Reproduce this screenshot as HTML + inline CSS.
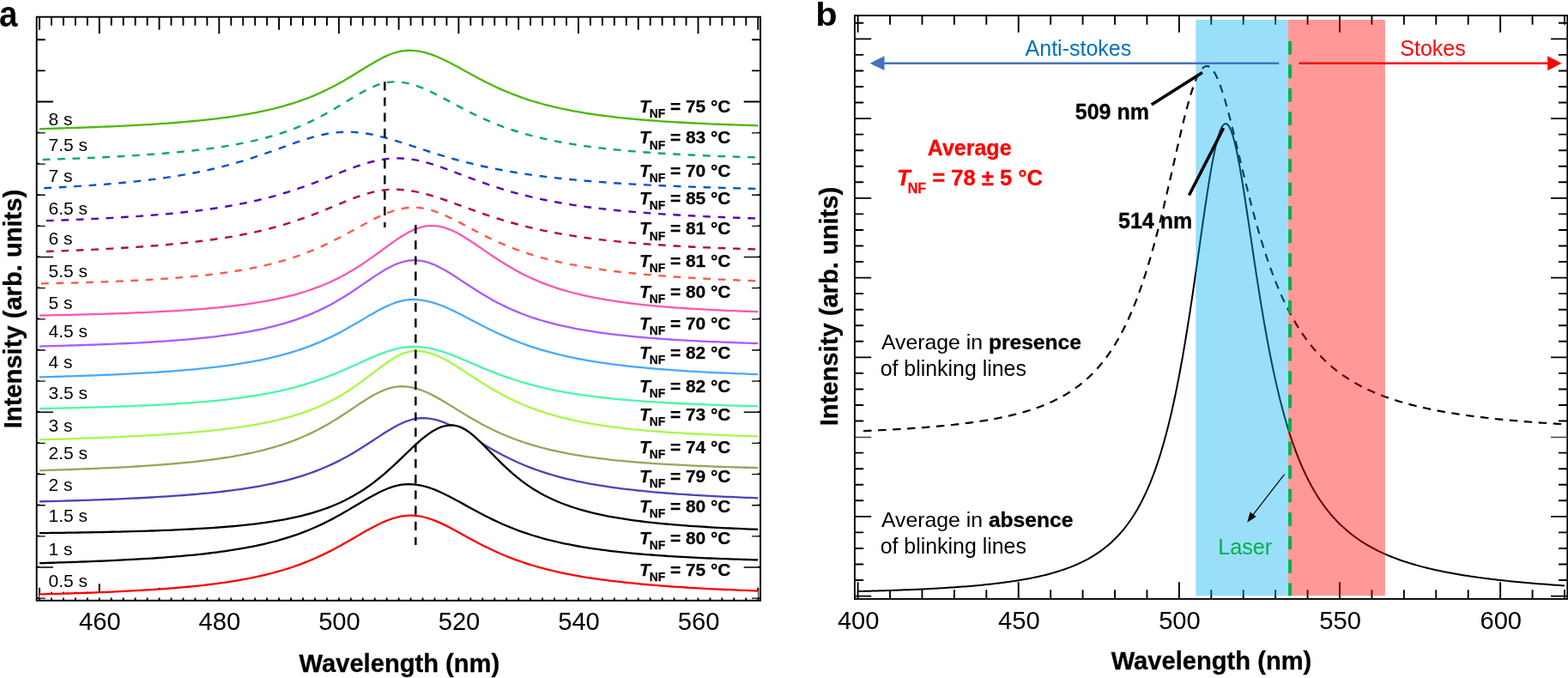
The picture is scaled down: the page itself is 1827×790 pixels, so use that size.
<!DOCTYPE html>
<html lang="en">
<head>
<meta charset="utf-8">
<title>Figure</title>
<style>
html,body{margin:0;padding:0;background:#fff;}
body{width:1827px;height:790px;overflow:hidden;}
svg{display:block;}
text{white-space:pre;}
</style>
</head>
<body>
<svg width="1827" height="790" viewBox="0 0 1827 790" role="img" aria-label="Spectra figure with panels a and b">
<rect width="1827" height="790" fill="#fff"/>
<g id="panel-a">
<g stroke="#000" stroke-width="1.9" fill="none">
<path d="M46 19.7 v15 M46 699.75 v-15 M59.95 19.7 v10 M59.95 699.75 v-10 M73.91 19.7 v10 M73.91 699.75 v-10 M87.86 19.7 v10 M87.86 699.75 v-10 M101.82 19.7 v10 M101.82 699.75 v-10 M115.77 19.7 v19.5 M115.77 699.75 v-19.5 M129.72 19.7 v10 M129.72 699.75 v-10 M143.68 19.7 v10 M143.68 699.75 v-10 M157.63 19.7 v10 M157.63 699.75 v-10 M171.59 19.7 v10 M171.59 699.75 v-10 M185.54 19.7 v15 M185.54 699.75 v-15 M199.49 19.7 v10 M199.49 699.75 v-10 M213.45 19.7 v10 M213.45 699.75 v-10 M227.4 19.7 v10 M227.4 699.75 v-10 M241.36 19.7 v10 M241.36 699.75 v-10 M255.31 19.7 v19.5 M255.31 699.75 v-19.5 M269.26 19.7 v10 M269.26 699.75 v-10 M283.22 19.7 v10 M283.22 699.75 v-10 M297.17 19.7 v10 M297.17 699.75 v-10 M311.13 19.7 v10 M311.13 699.75 v-10 M325.08 19.7 v15 M325.08 699.75 v-15 M339.03 19.7 v10 M339.03 699.75 v-10 M352.99 19.7 v10 M352.99 699.75 v-10 M366.94 19.7 v10 M366.94 699.75 v-10 M380.9 19.7 v10 M380.9 699.75 v-10 M394.85 19.7 v19.5 M394.85 699.75 v-19.5 M408.8 19.7 v10 M408.8 699.75 v-10 M422.76 19.7 v10 M422.76 699.75 v-10 M436.71 19.7 v10 M436.71 699.75 v-10 M450.67 19.7 v10 M450.67 699.75 v-10 M464.62 19.7 v15 M464.62 699.75 v-15 M478.57 19.7 v10 M478.57 699.75 v-10 M492.53 19.7 v10 M492.53 699.75 v-10 M506.48 19.7 v10 M506.48 699.75 v-10 M520.44 19.7 v10 M520.44 699.75 v-10 M534.39 19.7 v19.5 M534.39 699.75 v-19.5 M548.34 19.7 v10 M548.34 699.75 v-10 M562.3 19.7 v10 M562.3 699.75 v-10 M576.25 19.7 v10 M576.25 699.75 v-10 M590.21 19.7 v10 M590.21 699.75 v-10 M604.16 19.7 v15 M604.16 699.75 v-15 M618.11 19.7 v10 M618.11 699.75 v-10 M632.07 19.7 v10 M632.07 699.75 v-10 M646.02 19.7 v10 M646.02 699.75 v-10 M659.98 19.7 v10 M659.98 699.75 v-10 M673.93 19.7 v19.5 M673.93 699.75 v-19.5 M687.88 19.7 v10 M687.88 699.75 v-10 M701.84 19.7 v10 M701.84 699.75 v-10 M715.79 19.7 v10 M715.79 699.75 v-10 M729.75 19.7 v10 M729.75 699.75 v-10 M743.7 19.7 v15 M743.7 699.75 v-15 M757.65 19.7 v10 M757.65 699.75 v-10 M771.61 19.7 v10 M771.61 699.75 v-10 M785.56 19.7 v10 M785.56 699.75 v-10 M799.52 19.7 v10 M799.52 699.75 v-10 M813.47 19.7 v19.5 M813.47 699.75 v-10 M827.42 19.7 v10 M827.42 699.75 v-10 M841.38 19.7 v10 M841.38 699.75 v-10 M855.33 19.7 v10 M855.33 699.75 v-10 M869.29 19.7 v10 M869.29 699.75 v-10 M883.24 19.7 v15 M883.24 699.75 v-15 M42.7 46.2 h10 M886 46.2 h-10 M42.7 82.35 h10 M886 82.35 h-10 M42.7 118.5 h19.3 M886 118.5 h-19.3 M42.7 154.65 h10 M886 154.65 h-10 M42.7 190.8 h10 M886 190.8 h-10 M42.7 226.95 h10 M886 226.95 h-10 M42.7 263.1 h10 M886 263.1 h-10 M42.7 299.25 h19.3 M886 299.25 h-19.3 M42.7 335.4 h10 M886 335.4 h-10 M42.7 371.55 h10 M886 371.55 h-10 M42.7 407.7 h10 M886 407.7 h-10 M42.7 443.85 h10 M886 443.85 h-10 M42.7 480 h19.3 M886 480 h-19.3 M42.7 516.15 h10 M886 516.15 h-10 M42.7 552.3 h10 M886 552.3 h-10 M42.7 588.45 h10 M886 588.45 h-10 M42.7 624.6 h10 M886 624.6 h-10 M42.7 660.75 h19.3 M886 660.75 h-19.3 M42.7 696.9 h10 M886 696.9 h-10"/>
</g>
<path d="M46 150.17 L50.68 150.04 L55.35 149.91 L60.03 149.78 L64.71 149.65 L69.39 149.51 L74.06 149.37 L78.74 149.22 L83.42 149.07 L88.1 148.91 L92.77 148.75 L97.45 148.59 L102.13 148.42 L106.81 148.25 L111.48 148.07 L116.16 147.88 L120.84 147.69 L125.51 147.49 L130.19 147.29 L134.87 147.08 L139.55 146.86 L144.22 146.64 L148.9 146.41 L153.58 146.17 L158.26 145.92 L162.93 145.66 L167.61 145.39 L172.29 145.12 L176.96 144.83 L181.64 144.53 L186.32 144.22 L191 143.9 L195.67 143.57 L200.35 143.23 L205.03 142.86 L209.71 142.49 L214.38 142.1 L219.06 141.69 L223.74 141.27 L228.42 140.83 L233.09 140.37 L237.77 139.88 L242.45 139.38 L247.12 138.85 L251.8 138.3 L256.48 137.72 L261.16 137.12 L265.83 136.49 L270.51 135.82 L275.19 135.13 L279.87 134.4 L284.54 133.63 L289.22 132.82 L293.9 131.97 L298.58 131.08 L303.25 130.14 L307.93 129.15 L312.61 128.1 L317.28 127 L321.96 125.84 L326.64 124.62 L331.32 123.33 L335.99 121.97 L340.67 120.53 L345.35 119.01 L350.03 117.41 L354.7 115.73 L359.38 113.95 L364.06 112.08 L368.73 110.1 L373.41 108.03 L378.09 105.86 L382.77 103.58 L387.44 101.2 L392.12 98.72 L396.8 96.14 L401.48 93.47 L406.15 90.73 L410.83 87.91 L415.51 85.05 L420.19 82.17 L424.86 79.28 L429.54 76.42 L434.22 73.64 L438.89 70.96 L443.57 68.44 L448.25 66.11 L452.93 64.03 L457.6 62.24 L462.28 60.79 L466.96 59.71 L471.64 59.03 L476.31 58.76 L480.99 58.88 L485.67 59.33 L490.35 60.1 L495.02 61.17 L499.7 62.53 L504.38 64.15 L509.05 65.99 L513.73 68.03 L518.41 70.24 L523.09 72.58 L527.76 75.01 L532.44 77.52 L537.12 80.08 L541.8 82.65 L546.47 85.23 L551.15 87.78 L555.83 90.3 L560.51 92.77 L565.18 95.18 L569.86 97.52 L574.54 99.78 L579.21 101.97 L583.89 104.08 L588.57 106.11 L593.25 108.05 L597.92 109.91 L602.6 111.69 L607.28 113.38 L611.96 115 L616.63 116.55 L621.31 118.02 L625.99 119.42 L630.66 120.75 L635.34 122.02 L640.02 123.22 L644.7 124.37 L649.37 125.46 L654.05 126.5 L658.73 127.49 L663.41 128.43 L668.08 129.33 L672.76 130.18 L677.44 130.99 L682.12 131.76 L686.79 132.5 L691.47 133.2 L696.15 133.87 L700.82 134.51 L705.5 135.12 L710.18 135.7 L714.86 136.26 L719.53 136.79 L724.21 137.29 L728.89 137.78 L733.57 138.24 L738.24 138.68 L742.92 139.11 L747.6 139.51 L752.28 139.9 L756.95 140.27 L761.63 140.63 L766.31 140.97 L770.98 141.3 L775.66 141.62 L780.34 141.92 L785.02 142.21 L789.69 142.49 L794.37 142.75 L799.05 143.01 L803.73 143.26 L808.4 143.49 L813.08 143.72 L817.76 143.94 L822.43 144.15 L827.11 144.36 L831.79 144.55 L836.47 144.74 L841.14 144.93 L845.82 145.1 L850.5 145.27 L855.18 145.43 L859.85 145.59 L864.53 145.74 L869.21 145.89 L873.89 146.03 L878.56 146.17 L883.24 146.3 L883.24 154.25 L46 154.25 Z" fill="#fff" stroke="none"/>
<path d="M46 150.17 L50.68 150.04 L55.35 149.91 L60.03 149.78 L64.71 149.65 L69.39 149.51 L74.06 149.37 L78.74 149.22 L83.42 149.07 L88.1 148.91 L92.77 148.75 L97.45 148.59 L102.13 148.42 L106.81 148.25 L111.48 148.07 L116.16 147.88 L120.84 147.69 L125.51 147.49 L130.19 147.29 L134.87 147.08 L139.55 146.86 L144.22 146.64 L148.9 146.41 L153.58 146.17 L158.26 145.92 L162.93 145.66 L167.61 145.39 L172.29 145.12 L176.96 144.83 L181.64 144.53 L186.32 144.22 L191 143.9 L195.67 143.57 L200.35 143.23 L205.03 142.86 L209.71 142.49 L214.38 142.1 L219.06 141.69 L223.74 141.27 L228.42 140.83 L233.09 140.37 L237.77 139.88 L242.45 139.38 L247.12 138.85 L251.8 138.3 L256.48 137.72 L261.16 137.12 L265.83 136.49 L270.51 135.82 L275.19 135.13 L279.87 134.4 L284.54 133.63 L289.22 132.82 L293.9 131.97 L298.58 131.08 L303.25 130.14 L307.93 129.15 L312.61 128.1 L317.28 127 L321.96 125.84 L326.64 124.62 L331.32 123.33 L335.99 121.97 L340.67 120.53 L345.35 119.01 L350.03 117.41 L354.7 115.73 L359.38 113.95 L364.06 112.08 L368.73 110.1 L373.41 108.03 L378.09 105.86 L382.77 103.58 L387.44 101.2 L392.12 98.72 L396.8 96.14 L401.48 93.47 L406.15 90.73 L410.83 87.91 L415.51 85.05 L420.19 82.17 L424.86 79.28 L429.54 76.42 L434.22 73.64 L438.89 70.96 L443.57 68.44 L448.25 66.11 L452.93 64.03 L457.6 62.24 L462.28 60.79 L466.96 59.71 L471.64 59.03 L476.31 58.76 L480.99 58.88 L485.67 59.33 L490.35 60.1 L495.02 61.17 L499.7 62.53 L504.38 64.15 L509.05 65.99 L513.73 68.03 L518.41 70.24 L523.09 72.58 L527.76 75.01 L532.44 77.52 L537.12 80.08 L541.8 82.65 L546.47 85.23 L551.15 87.78 L555.83 90.3 L560.51 92.77 L565.18 95.18 L569.86 97.52 L574.54 99.78 L579.21 101.97 L583.89 104.08 L588.57 106.11 L593.25 108.05 L597.92 109.91 L602.6 111.69 L607.28 113.38 L611.96 115 L616.63 116.55 L621.31 118.02 L625.99 119.42 L630.66 120.75 L635.34 122.02 L640.02 123.22 L644.7 124.37 L649.37 125.46 L654.05 126.5 L658.73 127.49 L663.41 128.43 L668.08 129.33 L672.76 130.18 L677.44 130.99 L682.12 131.76 L686.79 132.5 L691.47 133.2 L696.15 133.87 L700.82 134.51 L705.5 135.12 L710.18 135.7 L714.86 136.26 L719.53 136.79 L724.21 137.29 L728.89 137.78 L733.57 138.24 L738.24 138.68 L742.92 139.11 L747.6 139.51 L752.28 139.9 L756.95 140.27 L761.63 140.63 L766.31 140.97 L770.98 141.3 L775.66 141.62 L780.34 141.92 L785.02 142.21 L789.69 142.49 L794.37 142.75 L799.05 143.01 L803.73 143.26 L808.4 143.49 L813.08 143.72 L817.76 143.94 L822.43 144.15 L827.11 144.36 L831.79 144.55 L836.47 144.74 L841.14 144.93 L845.82 145.1 L850.5 145.27 L855.18 145.43 L859.85 145.59 L864.53 145.74 L869.21 145.89 L873.89 146.03 L878.56 146.17 L883.24 146.3" fill="none" stroke="#4cb80a" stroke-width="2.3"/>
<path d="M46 186.1 L50.68 185.96 L55.35 185.81 L60.03 185.65 L64.71 185.49 L69.39 185.33 L74.06 185.16 L78.74 184.99 L83.42 184.81 L88.1 184.63 L92.77 184.45 L97.45 184.25 L102.13 184.05 L106.81 183.85 L111.48 183.64 L116.16 183.42 L120.84 183.19 L125.51 182.96 L130.19 182.72 L134.87 182.47 L139.55 182.22 L144.22 181.95 L148.9 181.68 L153.58 181.4 L158.26 181.1 L162.93 180.8 L167.61 180.48 L172.29 180.15 L176.96 179.81 L181.64 179.46 L186.32 179.1 L191 178.72 L195.67 178.32 L200.35 177.91 L205.03 177.48 L209.71 177.03 L214.38 176.57 L219.06 176.08 L223.74 175.58 L228.42 175.05 L233.09 174.5 L237.77 173.92 L242.45 173.32 L247.12 172.69 L251.8 172.03 L256.48 171.34 L261.16 170.61 L265.83 169.85 L270.51 169.05 L275.19 168.22 L279.87 167.34 L284.54 166.41 L289.22 165.44 L293.9 164.42 L298.58 163.34 L303.25 162.21 L307.93 161.02 L312.61 159.76 L317.28 158.43 L321.96 157.03 L326.64 155.56 L331.32 154.01 L335.99 152.37 L340.67 150.65 L345.35 148.83 L350.03 146.93 L354.7 144.92 L359.38 142.81 L364.06 140.6 L368.73 138.29 L373.41 135.88 L378.09 133.37 L382.77 130.77 L387.44 128.09 L392.12 125.33 L396.8 122.52 L401.48 119.67 L406.15 116.81 L410.83 113.96 L415.51 111.16 L420.19 108.46 L424.86 105.88 L429.54 103.49 L434.22 101.32 L438.89 99.42 L443.57 97.85 L448.25 96.63 L452.93 95.81 L457.6 95.4 L462.28 95.4 L466.96 95.73 L471.64 96.38 L476.31 97.33 L480.99 98.57 L485.67 100.06 L490.35 101.79 L495.02 103.72 L499.7 105.83 L504.38 108.07 L509.05 110.43 L513.73 112.87 L518.41 115.36 L523.09 117.88 L527.76 120.4 L532.44 122.92 L537.12 125.41 L541.8 127.86 L546.47 130.25 L551.15 132.58 L555.83 134.85 L560.51 137.04 L565.18 139.15 L569.86 141.19 L574.54 143.14 L579.21 145.02 L583.89 146.82 L588.57 148.53 L593.25 150.18 L597.92 151.75 L602.6 153.24 L607.28 154.67 L611.96 156.03 L616.63 157.33 L621.31 158.57 L625.99 159.75 L630.66 160.87 L635.34 161.94 L640.02 162.96 L644.7 163.94 L649.37 164.86 L654.05 165.75 L658.73 166.59 L663.41 167.39 L668.08 168.16 L672.76 168.89 L677.44 169.59 L682.12 170.26 L686.79 170.9 L691.47 171.51 L696.15 172.1 L700.82 172.65 L705.5 173.19 L710.18 173.7 L714.86 174.19 L719.53 174.66 L724.21 175.11 L728.89 175.54 L733.57 175.95 L738.24 176.35 L742.92 176.73 L747.6 177.1 L752.28 177.45 L756.95 177.79 L761.63 178.11 L766.31 178.42 L770.98 178.72 L775.66 179.01 L780.34 179.29 L785.02 179.56 L789.69 179.81 L794.37 180.06 L799.05 180.3 L803.73 180.53 L808.4 180.75 L813.08 180.97 L817.76 181.18 L822.43 181.38 L827.11 181.57 L831.79 181.75 L836.47 181.93 L841.14 182.11 L845.82 182.28 L850.5 182.44 L855.18 182.59 L859.85 182.75 L864.53 182.89 L869.21 183.03 L873.89 183.17 L878.56 183.3 L883.24 183.43 L883.24 190.4 L46 190.4 Z" fill="#fff" stroke="none"/>
<path d="M46 186.1 L50.68 185.96 L55.35 185.81 L60.03 185.65 L64.71 185.49 L69.39 185.33 L74.06 185.16 L78.74 184.99 L83.42 184.81 L88.1 184.63 L92.77 184.45 L97.45 184.25 L102.13 184.05 L106.81 183.85 L111.48 183.64 L116.16 183.42 L120.84 183.19 L125.51 182.96 L130.19 182.72 L134.87 182.47 L139.55 182.22 L144.22 181.95 L148.9 181.68 L153.58 181.4 L158.26 181.1 L162.93 180.8 L167.61 180.48 L172.29 180.15 L176.96 179.81 L181.64 179.46 L186.32 179.1 L191 178.72 L195.67 178.32 L200.35 177.91 L205.03 177.48 L209.71 177.03 L214.38 176.57 L219.06 176.08 L223.74 175.58 L228.42 175.05 L233.09 174.5 L237.77 173.92 L242.45 173.32 L247.12 172.69 L251.8 172.03 L256.48 171.34 L261.16 170.61 L265.83 169.85 L270.51 169.05 L275.19 168.22 L279.87 167.34 L284.54 166.41 L289.22 165.44 L293.9 164.42 L298.58 163.34 L303.25 162.21 L307.93 161.02 L312.61 159.76 L317.28 158.43 L321.96 157.03 L326.64 155.56 L331.32 154.01 L335.99 152.37 L340.67 150.65 L345.35 148.83 L350.03 146.93 L354.7 144.92 L359.38 142.81 L364.06 140.6 L368.73 138.29 L373.41 135.88 L378.09 133.37 L382.77 130.77 L387.44 128.09 L392.12 125.33 L396.8 122.52 L401.48 119.67 L406.15 116.81 L410.83 113.96 L415.51 111.16 L420.19 108.46 L424.86 105.88 L429.54 103.49 L434.22 101.32 L438.89 99.42 L443.57 97.85 L448.25 96.63 L452.93 95.81 L457.6 95.4 L462.28 95.4 L466.96 95.73 L471.64 96.38 L476.31 97.33 L480.99 98.57 L485.67 100.06 L490.35 101.79 L495.02 103.72 L499.7 105.83 L504.38 108.07 L509.05 110.43 L513.73 112.87 L518.41 115.36 L523.09 117.88 L527.76 120.4 L532.44 122.92 L537.12 125.41 L541.8 127.86 L546.47 130.25 L551.15 132.58 L555.83 134.85 L560.51 137.04 L565.18 139.15 L569.86 141.19 L574.54 143.14 L579.21 145.02 L583.89 146.82 L588.57 148.53 L593.25 150.18 L597.92 151.75 L602.6 153.24 L607.28 154.67 L611.96 156.03 L616.63 157.33 L621.31 158.57 L625.99 159.75 L630.66 160.87 L635.34 161.94 L640.02 162.96 L644.7 163.94 L649.37 164.86 L654.05 165.75 L658.73 166.59 L663.41 167.39 L668.08 168.16 L672.76 168.89 L677.44 169.59 L682.12 170.26 L686.79 170.9 L691.47 171.51 L696.15 172.1 L700.82 172.65 L705.5 173.19 L710.18 173.7 L714.86 174.19 L719.53 174.66 L724.21 175.11 L728.89 175.54 L733.57 175.95 L738.24 176.35 L742.92 176.73 L747.6 177.1 L752.28 177.45 L756.95 177.79 L761.63 178.11 L766.31 178.42 L770.98 178.72 L775.66 179.01 L780.34 179.29 L785.02 179.56 L789.69 179.81 L794.37 180.06 L799.05 180.3 L803.73 180.53 L808.4 180.75 L813.08 180.97 L817.76 181.18 L822.43 181.38 L827.11 181.57 L831.79 181.75 L836.47 181.93 L841.14 182.11 L845.82 182.28 L850.5 182.44 L855.18 182.59 L859.85 182.75 L864.53 182.89 L869.21 183.03 L873.89 183.17 L878.56 183.3 L883.24 183.43" fill="none" stroke="#00ab61" stroke-width="2.4" stroke-dasharray="8.7 8.7" stroke-dashoffset="13.7"/>
<path d="M46 219.45 L50.68 219.23 L55.35 219 L60.03 218.76 L64.71 218.52 L69.39 218.27 L74.06 218.01 L78.74 217.74 L83.42 217.46 L88.1 217.17 L92.77 216.87 L97.45 216.56 L102.13 216.24 L106.81 215.91 L111.48 215.57 L116.16 215.22 L120.84 214.85 L125.51 214.47 L130.19 214.07 L134.87 213.66 L139.55 213.24 L144.22 212.79 L148.9 212.33 L153.58 211.86 L158.26 211.36 L162.93 210.85 L167.61 210.31 L172.29 209.76 L176.96 209.18 L181.64 208.57 L186.32 207.95 L191 207.3 L195.67 206.62 L200.35 205.91 L205.03 205.17 L209.71 204.41 L214.38 203.61 L219.06 202.78 L223.74 201.91 L228.42 201.01 L233.09 200.07 L237.77 199.09 L242.45 198.08 L247.12 197.02 L251.8 195.92 L256.48 194.78 L261.16 193.59 L265.83 192.36 L270.51 191.08 L275.19 189.76 L279.87 188.39 L284.54 186.97 L289.22 185.52 L293.9 184.02 L298.58 182.48 L303.25 180.9 L307.93 179.29 L312.61 177.64 L317.28 175.98 L321.96 174.29 L326.64 172.6 L331.32 170.9 L335.99 169.21 L340.67 167.54 L345.35 165.91 L350.03 164.31 L354.7 162.78 L359.38 161.31 L364.06 159.94 L368.73 158.66 L373.41 157.51 L378.09 156.48 L382.77 155.61 L387.44 154.89 L392.12 154.34 L396.8 153.96 L401.48 153.76 L406.15 153.75 L410.83 153.9 L415.51 154.21 L420.19 154.68 L424.86 155.29 L429.54 156.05 L434.22 156.93 L438.89 157.94 L443.57 159.05 L448.25 160.26 L452.93 161.56 L457.6 162.92 L462.28 164.34 L466.96 165.81 L471.64 167.31 L476.31 168.83 L480.99 170.37 L485.67 171.91 L490.35 173.45 L495.02 174.98 L499.7 176.49 L504.38 177.98 L509.05 179.45 L513.73 180.89 L518.41 182.29 L523.09 183.66 L527.76 184.99 L532.44 186.29 L537.12 187.55 L541.8 188.77 L546.47 189.95 L551.15 191.09 L555.83 192.2 L560.51 193.26 L565.18 194.29 L569.86 195.28 L574.54 196.24 L579.21 197.16 L583.89 198.04 L588.57 198.9 L593.25 199.72 L597.92 200.51 L602.6 201.28 L607.28 202.01 L611.96 202.72 L616.63 203.4 L621.31 204.05 L625.99 204.68 L630.66 205.29 L635.34 205.88 L640.02 206.44 L644.7 206.98 L649.37 207.5 L654.05 208.01 L658.73 208.5 L663.41 208.96 L668.08 209.42 L672.76 209.85 L677.44 210.27 L682.12 210.68 L686.79 211.07 L691.47 211.45 L696.15 211.81 L700.82 212.17 L705.5 212.51 L710.18 212.84 L714.86 213.16 L719.53 213.46 L724.21 213.76 L728.89 214.05 L733.57 214.33 L738.24 214.6 L742.92 214.86 L747.6 215.11 L752.28 215.36 L756.95 215.6 L761.63 215.83 L766.31 216.05 L770.98 216.27 L775.66 216.48 L780.34 216.68 L785.02 216.88 L789.69 217.07 L794.37 217.25 L799.05 217.43 L803.73 217.61 L808.4 217.78 L813.08 217.94 L817.76 218.11 L822.43 218.26 L827.11 218.41 L831.79 218.56 L836.47 218.7 L841.14 218.84 L845.82 218.98 L850.5 219.11 L855.18 219.24 L859.85 219.36 L864.53 219.49 L869.21 219.6 L873.89 219.72 L878.56 219.83 L883.24 219.94 L883.24 226.55 L46 226.55 Z" fill="#fff" stroke="none"/>
<path d="M46 219.45 L50.68 219.23 L55.35 219 L60.03 218.76 L64.71 218.52 L69.39 218.27 L74.06 218.01 L78.74 217.74 L83.42 217.46 L88.1 217.17 L92.77 216.87 L97.45 216.56 L102.13 216.24 L106.81 215.91 L111.48 215.57 L116.16 215.22 L120.84 214.85 L125.51 214.47 L130.19 214.07 L134.87 213.66 L139.55 213.24 L144.22 212.79 L148.9 212.33 L153.58 211.86 L158.26 211.36 L162.93 210.85 L167.61 210.31 L172.29 209.76 L176.96 209.18 L181.64 208.57 L186.32 207.95 L191 207.3 L195.67 206.62 L200.35 205.91 L205.03 205.17 L209.71 204.41 L214.38 203.61 L219.06 202.78 L223.74 201.91 L228.42 201.01 L233.09 200.07 L237.77 199.09 L242.45 198.08 L247.12 197.02 L251.8 195.92 L256.48 194.78 L261.16 193.59 L265.83 192.36 L270.51 191.08 L275.19 189.76 L279.87 188.39 L284.54 186.97 L289.22 185.52 L293.9 184.02 L298.58 182.48 L303.25 180.9 L307.93 179.29 L312.61 177.64 L317.28 175.98 L321.96 174.29 L326.64 172.6 L331.32 170.9 L335.99 169.21 L340.67 167.54 L345.35 165.91 L350.03 164.31 L354.7 162.78 L359.38 161.31 L364.06 159.94 L368.73 158.66 L373.41 157.51 L378.09 156.48 L382.77 155.61 L387.44 154.89 L392.12 154.34 L396.8 153.96 L401.48 153.76 L406.15 153.75 L410.83 153.9 L415.51 154.21 L420.19 154.68 L424.86 155.29 L429.54 156.05 L434.22 156.93 L438.89 157.94 L443.57 159.05 L448.25 160.26 L452.93 161.56 L457.6 162.92 L462.28 164.34 L466.96 165.81 L471.64 167.31 L476.31 168.83 L480.99 170.37 L485.67 171.91 L490.35 173.45 L495.02 174.98 L499.7 176.49 L504.38 177.98 L509.05 179.45 L513.73 180.89 L518.41 182.29 L523.09 183.66 L527.76 184.99 L532.44 186.29 L537.12 187.55 L541.8 188.77 L546.47 189.95 L551.15 191.09 L555.83 192.2 L560.51 193.26 L565.18 194.29 L569.86 195.28 L574.54 196.24 L579.21 197.16 L583.89 198.04 L588.57 198.9 L593.25 199.72 L597.92 200.51 L602.6 201.28 L607.28 202.01 L611.96 202.72 L616.63 203.4 L621.31 204.05 L625.99 204.68 L630.66 205.29 L635.34 205.88 L640.02 206.44 L644.7 206.98 L649.37 207.5 L654.05 208.01 L658.73 208.5 L663.41 208.96 L668.08 209.42 L672.76 209.85 L677.44 210.27 L682.12 210.68 L686.79 211.07 L691.47 211.45 L696.15 211.81 L700.82 212.17 L705.5 212.51 L710.18 212.84 L714.86 213.16 L719.53 213.46 L724.21 213.76 L728.89 214.05 L733.57 214.33 L738.24 214.6 L742.92 214.86 L747.6 215.11 L752.28 215.36 L756.95 215.6 L761.63 215.83 L766.31 216.05 L770.98 216.27 L775.66 216.48 L780.34 216.68 L785.02 216.88 L789.69 217.07 L794.37 217.25 L799.05 217.43 L803.73 217.61 L808.4 217.78 L813.08 217.94 L817.76 218.11 L822.43 218.26 L827.11 218.41 L831.79 218.56 L836.47 218.7 L841.14 218.84 L845.82 218.98 L850.5 219.11 L855.18 219.24 L859.85 219.36 L864.53 219.49 L869.21 219.6 L873.89 219.72 L878.56 219.83 L883.24 219.94" fill="none" stroke="#0055c8" stroke-width="2.4" stroke-dasharray="8.7 8.7" stroke-dashoffset="12"/>
<path d="M46 257.39 L50.68 257.24 L55.35 257.09 L60.03 256.93 L64.71 256.77 L69.39 256.6 L74.06 256.43 L78.74 256.26 L83.42 256.07 L88.1 255.88 L92.77 255.69 L97.45 255.49 L102.13 255.28 L106.81 255.07 L111.48 254.85 L116.16 254.62 L120.84 254.38 L125.51 254.13 L130.19 253.88 L134.87 253.62 L139.55 253.35 L144.22 253.06 L148.9 252.77 L153.58 252.47 L158.26 252.16 L162.93 251.83 L167.61 251.49 L172.29 251.14 L176.96 250.78 L181.64 250.4 L186.32 250.01 L191 249.6 L195.67 249.18 L200.35 248.74 L205.03 248.28 L209.71 247.8 L214.38 247.31 L219.06 246.79 L223.74 246.25 L228.42 245.69 L233.09 245.11 L237.77 244.5 L242.45 243.86 L247.12 243.2 L251.8 242.51 L256.48 241.79 L261.16 241.04 L265.83 240.26 L270.51 239.44 L275.19 238.58 L279.87 237.69 L284.54 236.76 L289.22 235.79 L293.9 234.78 L298.58 233.73 L303.25 232.63 L307.93 231.48 L312.61 230.29 L317.28 229.05 L321.96 227.75 L326.64 226.41 L331.32 225.01 L335.99 223.57 L340.67 222.07 L345.35 220.52 L350.03 218.92 L354.7 217.27 L359.38 215.58 L364.06 213.84 L368.73 212.07 L373.41 210.26 L378.09 208.42 L382.77 206.56 L387.44 204.7 L392.12 202.83 L396.8 200.97 L401.48 199.14 L406.15 197.34 L410.83 195.59 L415.51 193.92 L420.19 192.32 L424.86 190.83 L429.54 189.46 L434.22 188.22 L438.89 187.14 L443.57 186.22 L448.25 185.48 L452.93 184.92 L457.6 184.57 L462.28 184.42 L466.96 184.47 L471.64 184.73 L476.31 185.19 L480.99 185.84 L485.67 186.67 L490.35 187.67 L495.02 188.82 L499.7 190.12 L504.38 191.53 L509.05 193.04 L513.73 194.64 L518.41 196.31 L523.09 198.03 L527.76 199.78 L532.44 201.56 L537.12 203.34 L541.8 205.13 L546.47 206.9 L551.15 208.66 L555.83 210.38 L560.51 212.08 L565.18 213.74 L569.86 215.35 L574.54 216.92 L579.21 218.45 L583.89 219.92 L588.57 221.35 L593.25 222.73 L597.92 224.06 L602.6 225.34 L607.28 226.58 L611.96 227.76 L616.63 228.9 L621.31 230 L625.99 231.05 L630.66 232.07 L635.34 233.04 L640.02 233.97 L644.7 234.86 L649.37 235.72 L654.05 236.55 L658.73 237.34 L663.41 238.1 L668.08 238.83 L672.76 239.53 L677.44 240.2 L682.12 240.84 L686.79 241.46 L691.47 242.06 L696.15 242.63 L700.82 243.18 L705.5 243.71 L710.18 244.22 L714.86 244.71 L719.53 245.19 L724.21 245.64 L728.89 246.08 L733.57 246.5 L738.24 246.91 L742.92 247.3 L747.6 247.68 L752.28 248.04 L756.95 248.39 L761.63 248.73 L766.31 249.06 L770.98 249.38 L775.66 249.68 L780.34 249.98 L785.02 250.27 L789.69 250.54 L794.37 250.81 L799.05 251.07 L803.73 251.32 L808.4 251.56 L813.08 251.8 L817.76 252.02 L822.43 252.24 L827.11 252.46 L831.79 252.66 L836.47 252.87 L841.14 253.06 L845.82 253.25 L850.5 253.43 L855.18 253.61 L859.85 253.78 L864.53 253.95 L869.21 254.11 L873.89 254.27 L878.56 254.42 L883.24 254.57 L883.24 262.7 L46 262.7 Z" fill="#fff" stroke="none"/>
<path d="M46 257.39 L50.68 257.24 L55.35 257.09 L60.03 256.93 L64.71 256.77 L69.39 256.6 L74.06 256.43 L78.74 256.26 L83.42 256.07 L88.1 255.88 L92.77 255.69 L97.45 255.49 L102.13 255.28 L106.81 255.07 L111.48 254.85 L116.16 254.62 L120.84 254.38 L125.51 254.13 L130.19 253.88 L134.87 253.62 L139.55 253.35 L144.22 253.06 L148.9 252.77 L153.58 252.47 L158.26 252.16 L162.93 251.83 L167.61 251.49 L172.29 251.14 L176.96 250.78 L181.64 250.4 L186.32 250.01 L191 249.6 L195.67 249.18 L200.35 248.74 L205.03 248.28 L209.71 247.8 L214.38 247.31 L219.06 246.79 L223.74 246.25 L228.42 245.69 L233.09 245.11 L237.77 244.5 L242.45 243.86 L247.12 243.2 L251.8 242.51 L256.48 241.79 L261.16 241.04 L265.83 240.26 L270.51 239.44 L275.19 238.58 L279.87 237.69 L284.54 236.76 L289.22 235.79 L293.9 234.78 L298.58 233.73 L303.25 232.63 L307.93 231.48 L312.61 230.29 L317.28 229.05 L321.96 227.75 L326.64 226.41 L331.32 225.01 L335.99 223.57 L340.67 222.07 L345.35 220.52 L350.03 218.92 L354.7 217.27 L359.38 215.58 L364.06 213.84 L368.73 212.07 L373.41 210.26 L378.09 208.42 L382.77 206.56 L387.44 204.7 L392.12 202.83 L396.8 200.97 L401.48 199.14 L406.15 197.34 L410.83 195.59 L415.51 193.92 L420.19 192.32 L424.86 190.83 L429.54 189.46 L434.22 188.22 L438.89 187.14 L443.57 186.22 L448.25 185.48 L452.93 184.92 L457.6 184.57 L462.28 184.42 L466.96 184.47 L471.64 184.73 L476.31 185.19 L480.99 185.84 L485.67 186.67 L490.35 187.67 L495.02 188.82 L499.7 190.12 L504.38 191.53 L509.05 193.04 L513.73 194.64 L518.41 196.31 L523.09 198.03 L527.76 199.78 L532.44 201.56 L537.12 203.34 L541.8 205.13 L546.47 206.9 L551.15 208.66 L555.83 210.38 L560.51 212.08 L565.18 213.74 L569.86 215.35 L574.54 216.92 L579.21 218.45 L583.89 219.92 L588.57 221.35 L593.25 222.73 L597.92 224.06 L602.6 225.34 L607.28 226.58 L611.96 227.76 L616.63 228.9 L621.31 230 L625.99 231.05 L630.66 232.07 L635.34 233.04 L640.02 233.97 L644.7 234.86 L649.37 235.72 L654.05 236.55 L658.73 237.34 L663.41 238.1 L668.08 238.83 L672.76 239.53 L677.44 240.2 L682.12 240.84 L686.79 241.46 L691.47 242.06 L696.15 242.63 L700.82 243.18 L705.5 243.71 L710.18 244.22 L714.86 244.71 L719.53 245.19 L724.21 245.64 L728.89 246.08 L733.57 246.5 L738.24 246.91 L742.92 247.3 L747.6 247.68 L752.28 248.04 L756.95 248.39 L761.63 248.73 L766.31 249.06 L770.98 249.38 L775.66 249.68 L780.34 249.98 L785.02 250.27 L789.69 250.54 L794.37 250.81 L799.05 251.07 L803.73 251.32 L808.4 251.56 L813.08 251.8 L817.76 252.02 L822.43 252.24 L827.11 252.46 L831.79 252.66 L836.47 252.87 L841.14 253.06 L845.82 253.25 L850.5 253.43 L855.18 253.61 L859.85 253.78 L864.53 253.95 L869.21 254.11 L873.89 254.27 L878.56 254.42 L883.24 254.57" fill="none" stroke="#5a00b4" stroke-width="2.4" stroke-dasharray="8.7 8.7" stroke-dashoffset="9.4"/>
<path d="M46 293.28 L50.68 293.13 L55.35 292.96 L60.03 292.8 L64.71 292.62 L69.39 292.45 L74.06 292.27 L78.74 292.08 L83.42 291.89 L88.1 291.69 L92.77 291.49 L97.45 291.28 L102.13 291.07 L106.81 290.85 L111.48 290.62 L116.16 290.39 L120.84 290.15 L125.51 289.9 L130.19 289.64 L134.87 289.37 L139.55 289.1 L144.22 288.82 L148.9 288.53 L153.58 288.22 L158.26 287.91 L162.93 287.59 L167.61 287.25 L172.29 286.91 L176.96 286.55 L181.64 286.18 L186.32 285.79 L191 285.39 L195.67 284.98 L200.35 284.55 L205.03 284.1 L209.71 283.64 L214.38 283.16 L219.06 282.65 L223.74 282.13 L228.42 281.59 L233.09 281.03 L237.77 280.44 L242.45 279.83 L247.12 279.19 L251.8 278.52 L256.48 277.83 L261.16 277.11 L265.83 276.35 L270.51 275.56 L275.19 274.74 L279.87 273.88 L284.54 272.99 L289.22 272.05 L293.9 271.07 L298.58 270.05 L303.25 268.98 L307.93 267.87 L312.61 266.71 L317.28 265.49 L321.96 264.23 L326.64 262.91 L331.32 261.53 L335.99 260.1 L340.67 258.62 L345.35 257.07 L350.03 255.47 L354.7 253.81 L359.38 252.1 L364.06 250.34 L368.73 248.53 L373.41 246.68 L378.09 244.79 L382.77 242.87 L387.44 240.94 L392.12 238.99 L396.8 237.05 L401.48 235.13 L406.15 233.25 L410.83 231.42 L415.51 229.67 L420.19 228.02 L424.86 226.49 L429.54 225.09 L434.22 223.86 L438.89 222.81 L443.57 221.96 L448.25 221.32 L452.93 220.91 L457.6 220.73 L462.28 220.77 L466.96 220.99 L471.64 221.39 L476.31 221.96 L480.99 222.69 L485.67 223.57 L490.35 224.6 L495.02 225.75 L499.7 227.02 L504.38 228.4 L509.05 229.86 L513.73 231.4 L518.41 232.99 L523.09 234.64 L527.76 236.31 L532.44 238.01 L537.12 239.73 L541.8 241.44 L546.47 243.15 L551.15 244.85 L555.83 246.52 L560.51 248.17 L565.18 249.79 L569.86 251.37 L574.54 252.92 L579.21 254.42 L583.89 255.88 L588.57 257.3 L593.25 258.67 L597.92 260 L602.6 261.28 L607.28 262.52 L611.96 263.72 L616.63 264.87 L621.31 265.97 L625.99 267.04 L630.66 268.06 L635.34 269.05 L640.02 269.99 L644.7 270.9 L649.37 271.78 L654.05 272.61 L658.73 273.42 L663.41 274.19 L668.08 274.93 L672.76 275.65 L677.44 276.33 L682.12 276.99 L686.79 277.62 L691.47 278.22 L696.15 278.8 L700.82 279.36 L705.5 279.9 L710.18 280.41 L714.86 280.91 L719.53 281.38 L724.21 281.84 L728.89 282.28 L733.57 282.7 L738.24 283.11 L742.92 283.5 L747.6 283.88 L752.28 284.24 L756.95 284.59 L761.63 284.93 L766.31 285.25 L770.98 285.56 L775.66 285.87 L780.34 286.15 L785.02 286.43 L789.69 286.7 L794.37 286.96 L799.05 287.22 L803.73 287.46 L808.4 287.69 L813.08 287.92 L817.76 288.13 L822.43 288.34 L827.11 288.55 L831.79 288.74 L836.47 288.93 L841.14 289.12 L845.82 289.29 L850.5 289.47 L855.18 289.63 L859.85 289.79 L864.53 289.95 L869.21 290.1 L873.89 290.24 L878.56 290.38 L883.24 290.52 L883.24 298.85 L46 298.85 Z" fill="#fff" stroke="none"/>
<path d="M46 293.28 L50.68 293.13 L55.35 292.96 L60.03 292.8 L64.71 292.62 L69.39 292.45 L74.06 292.27 L78.74 292.08 L83.42 291.89 L88.1 291.69 L92.77 291.49 L97.45 291.28 L102.13 291.07 L106.81 290.85 L111.48 290.62 L116.16 290.39 L120.84 290.15 L125.51 289.9 L130.19 289.64 L134.87 289.37 L139.55 289.1 L144.22 288.82 L148.9 288.53 L153.58 288.22 L158.26 287.91 L162.93 287.59 L167.61 287.25 L172.29 286.91 L176.96 286.55 L181.64 286.18 L186.32 285.79 L191 285.39 L195.67 284.98 L200.35 284.55 L205.03 284.1 L209.71 283.64 L214.38 283.16 L219.06 282.65 L223.74 282.13 L228.42 281.59 L233.09 281.03 L237.77 280.44 L242.45 279.83 L247.12 279.19 L251.8 278.52 L256.48 277.83 L261.16 277.11 L265.83 276.35 L270.51 275.56 L275.19 274.74 L279.87 273.88 L284.54 272.99 L289.22 272.05 L293.9 271.07 L298.58 270.05 L303.25 268.98 L307.93 267.87 L312.61 266.71 L317.28 265.49 L321.96 264.23 L326.64 262.91 L331.32 261.53 L335.99 260.1 L340.67 258.62 L345.35 257.07 L350.03 255.47 L354.7 253.81 L359.38 252.1 L364.06 250.34 L368.73 248.53 L373.41 246.68 L378.09 244.79 L382.77 242.87 L387.44 240.94 L392.12 238.99 L396.8 237.05 L401.48 235.13 L406.15 233.25 L410.83 231.42 L415.51 229.67 L420.19 228.02 L424.86 226.49 L429.54 225.09 L434.22 223.86 L438.89 222.81 L443.57 221.96 L448.25 221.32 L452.93 220.91 L457.6 220.73 L462.28 220.77 L466.96 220.99 L471.64 221.39 L476.31 221.96 L480.99 222.69 L485.67 223.57 L490.35 224.6 L495.02 225.75 L499.7 227.02 L504.38 228.4 L509.05 229.86 L513.73 231.4 L518.41 232.99 L523.09 234.64 L527.76 236.31 L532.44 238.01 L537.12 239.73 L541.8 241.44 L546.47 243.15 L551.15 244.85 L555.83 246.52 L560.51 248.17 L565.18 249.79 L569.86 251.37 L574.54 252.92 L579.21 254.42 L583.89 255.88 L588.57 257.3 L593.25 258.67 L597.92 260 L602.6 261.28 L607.28 262.52 L611.96 263.72 L616.63 264.87 L621.31 265.97 L625.99 267.04 L630.66 268.06 L635.34 269.05 L640.02 269.99 L644.7 270.9 L649.37 271.78 L654.05 272.61 L658.73 273.42 L663.41 274.19 L668.08 274.93 L672.76 275.65 L677.44 276.33 L682.12 276.99 L686.79 277.62 L691.47 278.22 L696.15 278.8 L700.82 279.36 L705.5 279.9 L710.18 280.41 L714.86 280.91 L719.53 281.38 L724.21 281.84 L728.89 282.28 L733.57 282.7 L738.24 283.11 L742.92 283.5 L747.6 283.88 L752.28 284.24 L756.95 284.59 L761.63 284.93 L766.31 285.25 L770.98 285.56 L775.66 285.87 L780.34 286.15 L785.02 286.43 L789.69 286.7 L794.37 286.96 L799.05 287.22 L803.73 287.46 L808.4 287.69 L813.08 287.92 L817.76 288.13 L822.43 288.34 L827.11 288.55 L831.79 288.74 L836.47 288.93 L841.14 289.12 L845.82 289.29 L850.5 289.47 L855.18 289.63 L859.85 289.79 L864.53 289.95 L869.21 290.1 L873.89 290.24 L878.56 290.38 L883.24 290.52" fill="none" stroke="#b4004b" stroke-width="2.4" stroke-dasharray="8.7 8.7" stroke-dashoffset="9.4"/>
<path d="M46 330.47 L50.68 330.37 L55.35 330.27 L60.03 330.16 L64.71 330.05 L69.39 329.94 L74.06 329.82 L78.74 329.7 L83.42 329.58 L88.1 329.45 L92.77 329.31 L97.45 329.17 L102.13 329.03 L106.81 328.88 L111.48 328.72 L116.16 328.56 L120.84 328.39 L125.51 328.21 L130.19 328.03 L134.87 327.84 L139.55 327.64 L144.22 327.43 L148.9 327.21 L153.58 326.99 L158.26 326.76 L162.93 326.51 L167.61 326.26 L172.29 325.99 L176.96 325.72 L181.64 325.43 L186.32 325.13 L191 324.81 L195.67 324.48 L200.35 324.14 L205.03 323.78 L209.71 323.41 L214.38 323.01 L219.06 322.6 L223.74 322.17 L228.42 321.72 L233.09 321.24 L237.77 320.74 L242.45 320.22 L247.12 319.68 L251.8 319.1 L256.48 318.5 L261.16 317.87 L265.83 317.2 L270.51 316.5 L275.19 315.77 L279.87 314.99 L284.54 314.18 L289.22 313.33 L293.9 312.43 L298.58 311.48 L303.25 310.48 L307.93 309.43 L312.61 308.33 L317.28 307.16 L321.96 305.94 L326.64 304.65 L331.32 303.3 L335.99 301.88 L340.67 300.38 L345.35 298.81 L350.03 297.16 L354.7 295.43 L359.38 293.62 L364.06 291.73 L368.73 289.76 L373.41 287.7 L378.09 285.56 L382.77 283.34 L387.44 281.04 L392.12 278.67 L396.8 276.24 L401.48 273.75 L406.15 271.22 L410.83 268.66 L415.51 266.08 L420.19 263.5 L424.86 260.95 L429.54 258.44 L434.22 256 L438.89 253.67 L443.57 251.46 L448.25 249.41 L452.93 247.55 L457.6 245.91 L462.28 244.51 L466.96 243.38 L471.64 242.53 L476.31 241.99 L480.99 241.76 L485.67 241.86 L490.35 242.29 L495.02 243.04 L499.7 244.1 L504.38 245.44 L509.05 247.04 L513.73 248.86 L518.41 250.88 L523.09 253.05 L527.76 255.34 L532.44 257.72 L537.12 260.16 L541.8 262.64 L546.47 265.13 L551.15 267.61 L555.83 270.06 L560.51 272.46 L565.18 274.82 L569.86 277.11 L574.54 279.33 L579.21 281.47 L583.89 283.55 L588.57 285.54 L593.25 287.45 L597.92 289.28 L602.6 291.03 L607.28 292.71 L611.96 294.32 L616.63 295.85 L621.31 297.31 L625.99 298.7 L630.66 300.03 L635.34 301.3 L640.02 302.51 L644.7 303.66 L649.37 304.76 L654.05 305.81 L658.73 306.82 L663.41 307.77 L668.08 308.69 L672.76 309.56 L677.44 310.39 L682.12 311.19 L686.79 311.95 L691.47 312.68 L696.15 313.38 L700.82 314.05 L705.5 314.69 L710.18 315.3 L714.86 315.89 L719.53 316.46 L724.21 317 L728.89 317.52 L733.57 318.02 L738.24 318.5 L742.92 318.96 L747.6 319.41 L752.28 319.84 L756.95 320.25 L761.63 320.65 L766.31 321.03 L770.98 321.4 L775.66 321.76 L780.34 322.1 L785.02 322.43 L789.69 322.75 L794.37 323.06 L799.05 323.36 L803.73 323.65 L808.4 323.93 L813.08 324.2 L817.76 324.46 L822.43 324.72 L827.11 324.96 L831.79 325.2 L836.47 325.43 L841.14 325.66 L845.82 325.87 L850.5 326.08 L855.18 326.29 L859.85 326.49 L864.53 326.68 L869.21 326.87 L873.89 327.05 L878.56 327.23 L883.24 327.4 L883.24 335 L46 335 Z" fill="#fff" stroke="none"/>
<path d="M46 330.47 L50.68 330.37 L55.35 330.27 L60.03 330.16 L64.71 330.05 L69.39 329.94 L74.06 329.82 L78.74 329.7 L83.42 329.58 L88.1 329.45 L92.77 329.31 L97.45 329.17 L102.13 329.03 L106.81 328.88 L111.48 328.72 L116.16 328.56 L120.84 328.39 L125.51 328.21 L130.19 328.03 L134.87 327.84 L139.55 327.64 L144.22 327.43 L148.9 327.21 L153.58 326.99 L158.26 326.76 L162.93 326.51 L167.61 326.26 L172.29 325.99 L176.96 325.72 L181.64 325.43 L186.32 325.13 L191 324.81 L195.67 324.48 L200.35 324.14 L205.03 323.78 L209.71 323.41 L214.38 323.01 L219.06 322.6 L223.74 322.17 L228.42 321.72 L233.09 321.24 L237.77 320.74 L242.45 320.22 L247.12 319.68 L251.8 319.1 L256.48 318.5 L261.16 317.87 L265.83 317.2 L270.51 316.5 L275.19 315.77 L279.87 314.99 L284.54 314.18 L289.22 313.33 L293.9 312.43 L298.58 311.48 L303.25 310.48 L307.93 309.43 L312.61 308.33 L317.28 307.16 L321.96 305.94 L326.64 304.65 L331.32 303.3 L335.99 301.88 L340.67 300.38 L345.35 298.81 L350.03 297.16 L354.7 295.43 L359.38 293.62 L364.06 291.73 L368.73 289.76 L373.41 287.7 L378.09 285.56 L382.77 283.34 L387.44 281.04 L392.12 278.67 L396.8 276.24 L401.48 273.75 L406.15 271.22 L410.83 268.66 L415.51 266.08 L420.19 263.5 L424.86 260.95 L429.54 258.44 L434.22 256 L438.89 253.67 L443.57 251.46 L448.25 249.41 L452.93 247.55 L457.6 245.91 L462.28 244.51 L466.96 243.38 L471.64 242.53 L476.31 241.99 L480.99 241.76 L485.67 241.86 L490.35 242.29 L495.02 243.04 L499.7 244.1 L504.38 245.44 L509.05 247.04 L513.73 248.86 L518.41 250.88 L523.09 253.05 L527.76 255.34 L532.44 257.72 L537.12 260.16 L541.8 262.64 L546.47 265.13 L551.15 267.61 L555.83 270.06 L560.51 272.46 L565.18 274.82 L569.86 277.11 L574.54 279.33 L579.21 281.47 L583.89 283.55 L588.57 285.54 L593.25 287.45 L597.92 289.28 L602.6 291.03 L607.28 292.71 L611.96 294.32 L616.63 295.85 L621.31 297.31 L625.99 298.7 L630.66 300.03 L635.34 301.3 L640.02 302.51 L644.7 303.66 L649.37 304.76 L654.05 305.81 L658.73 306.82 L663.41 307.77 L668.08 308.69 L672.76 309.56 L677.44 310.39 L682.12 311.19 L686.79 311.95 L691.47 312.68 L696.15 313.38 L700.82 314.05 L705.5 314.69 L710.18 315.3 L714.86 315.89 L719.53 316.46 L724.21 317 L728.89 317.52 L733.57 318.02 L738.24 318.5 L742.92 318.96 L747.6 319.41 L752.28 319.84 L756.95 320.25 L761.63 320.65 L766.31 321.03 L770.98 321.4 L775.66 321.76 L780.34 322.1 L785.02 322.43 L789.69 322.75 L794.37 323.06 L799.05 323.36 L803.73 323.65 L808.4 323.93 L813.08 324.2 L817.76 324.46 L822.43 324.72 L827.11 324.96 L831.79 325.2 L836.47 325.43 L841.14 325.66 L845.82 325.87 L850.5 326.08 L855.18 326.29 L859.85 326.49 L864.53 326.68 L869.21 326.87 L873.89 327.05 L878.56 327.23 L883.24 327.4" fill="none" stroke="#ff5a50" stroke-width="2.4" stroke-dasharray="8.7 8.7" stroke-dashoffset="15.4"/>
<path d="M46 367.57 L50.68 367.48 L55.35 367.39 L60.03 367.3 L64.71 367.2 L69.39 367.1 L74.06 367 L78.74 366.9 L83.42 366.79 L88.1 366.68 L92.77 366.56 L97.45 366.44 L102.13 366.32 L106.81 366.19 L111.48 366.06 L116.16 365.92 L120.84 365.78 L125.51 365.64 L130.19 365.49 L134.87 365.33 L139.55 365.17 L144.22 365 L148.9 364.83 L153.58 364.65 L158.26 364.46 L162.93 364.26 L167.61 364.06 L172.29 363.85 L176.96 363.63 L181.64 363.41 L186.32 363.17 L191 362.92 L195.67 362.67 L200.35 362.4 L205.03 362.12 L209.71 361.83 L214.38 361.53 L219.06 361.21 L223.74 360.88 L228.42 360.53 L233.09 360.17 L237.77 359.79 L242.45 359.39 L247.12 358.97 L251.8 358.54 L256.48 358.08 L261.16 357.6 L265.83 357.09 L270.51 356.56 L275.19 356 L279.87 355.41 L284.54 354.79 L289.22 354.14 L293.9 353.45 L298.58 352.73 L303.25 351.96 L307.93 351.15 L312.61 350.3 L317.28 349.4 L321.96 348.44 L326.64 347.43 L331.32 346.37 L335.99 345.23 L340.67 344.04 L345.35 342.77 L350.03 341.42 L354.7 340 L359.38 338.49 L364.06 336.89 L368.73 335.19 L373.41 333.4 L378.09 331.5 L382.77 329.48 L387.44 327.35 L392.12 325.11 L396.8 322.73 L401.48 320.24 L406.15 317.61 L410.83 314.86 L415.51 311.98 L420.19 308.98 L424.86 305.87 L429.54 302.66 L434.22 299.35 L438.89 295.98 L443.57 292.56 L448.25 289.13 L452.93 285.72 L457.6 282.37 L462.28 279.13 L466.96 276.04 L471.64 273.16 L476.31 270.55 L480.99 268.25 L485.67 266.32 L490.35 264.8 L495.02 263.73 L499.7 263.13 L504.38 263.03 L509.05 263.39 L513.73 264.2 L518.41 265.43 L523.09 267.05 L527.76 269.04 L532.44 271.34 L537.12 273.91 L541.8 276.7 L546.47 279.67 L551.15 282.76 L555.83 285.93 L560.51 289.15 L565.18 292.37 L569.86 295.58 L574.54 298.74 L579.21 301.83 L583.89 304.85 L588.57 307.76 L593.25 310.58 L597.92 313.29 L602.6 315.88 L607.28 318.36 L611.96 320.73 L616.63 322.98 L621.31 325.12 L625.99 327.15 L630.66 329.08 L635.34 330.91 L640.02 332.64 L644.7 334.28 L649.37 335.83 L654.05 337.3 L658.73 338.7 L663.41 340.01 L668.08 341.26 L672.76 342.44 L677.44 343.56 L682.12 344.62 L686.79 345.62 L691.47 346.57 L696.15 347.48 L700.82 348.33 L705.5 349.14 L710.18 349.92 L714.86 350.65 L719.53 351.35 L724.21 352.01 L728.89 352.64 L733.57 353.24 L738.24 353.81 L742.92 354.36 L747.6 354.88 L752.28 355.38 L756.95 355.85 L761.63 356.3 L766.31 356.73 L770.98 357.14 L775.66 357.54 L780.34 357.92 L785.02 358.28 L789.69 358.62 L794.37 358.95 L799.05 359.27 L803.73 359.57 L808.4 359.87 L813.08 360.15 L817.76 360.42 L822.43 360.67 L827.11 360.92 L831.79 361.16 L836.47 361.39 L841.14 361.61 L845.82 361.82 L850.5 362.03 L855.18 362.22 L859.85 362.41 L864.53 362.59 L869.21 362.77 L873.89 362.94 L878.56 363.1 L883.24 363.26 L883.24 371.15 L46 371.15 Z" fill="#fff" stroke="none"/>
<path d="M46 367.57 L50.68 367.48 L55.35 367.39 L60.03 367.3 L64.71 367.2 L69.39 367.1 L74.06 367 L78.74 366.9 L83.42 366.79 L88.1 366.68 L92.77 366.56 L97.45 366.44 L102.13 366.32 L106.81 366.19 L111.48 366.06 L116.16 365.92 L120.84 365.78 L125.51 365.64 L130.19 365.49 L134.87 365.33 L139.55 365.17 L144.22 365 L148.9 364.83 L153.58 364.65 L158.26 364.46 L162.93 364.26 L167.61 364.06 L172.29 363.85 L176.96 363.63 L181.64 363.41 L186.32 363.17 L191 362.92 L195.67 362.67 L200.35 362.4 L205.03 362.12 L209.71 361.83 L214.38 361.53 L219.06 361.21 L223.74 360.88 L228.42 360.53 L233.09 360.17 L237.77 359.79 L242.45 359.39 L247.12 358.97 L251.8 358.54 L256.48 358.08 L261.16 357.6 L265.83 357.09 L270.51 356.56 L275.19 356 L279.87 355.41 L284.54 354.79 L289.22 354.14 L293.9 353.45 L298.58 352.73 L303.25 351.96 L307.93 351.15 L312.61 350.3 L317.28 349.4 L321.96 348.44 L326.64 347.43 L331.32 346.37 L335.99 345.23 L340.67 344.04 L345.35 342.77 L350.03 341.42 L354.7 340 L359.38 338.49 L364.06 336.89 L368.73 335.19 L373.41 333.4 L378.09 331.5 L382.77 329.48 L387.44 327.35 L392.12 325.11 L396.8 322.73 L401.48 320.24 L406.15 317.61 L410.83 314.86 L415.51 311.98 L420.19 308.98 L424.86 305.87 L429.54 302.66 L434.22 299.35 L438.89 295.98 L443.57 292.56 L448.25 289.13 L452.93 285.72 L457.6 282.37 L462.28 279.13 L466.96 276.04 L471.64 273.16 L476.31 270.55 L480.99 268.25 L485.67 266.32 L490.35 264.8 L495.02 263.73 L499.7 263.13 L504.38 263.03 L509.05 263.39 L513.73 264.2 L518.41 265.43 L523.09 267.05 L527.76 269.04 L532.44 271.34 L537.12 273.91 L541.8 276.7 L546.47 279.67 L551.15 282.76 L555.83 285.93 L560.51 289.15 L565.18 292.37 L569.86 295.58 L574.54 298.74 L579.21 301.83 L583.89 304.85 L588.57 307.76 L593.25 310.58 L597.92 313.29 L602.6 315.88 L607.28 318.36 L611.96 320.73 L616.63 322.98 L621.31 325.12 L625.99 327.15 L630.66 329.08 L635.34 330.91 L640.02 332.64 L644.7 334.28 L649.37 335.83 L654.05 337.3 L658.73 338.7 L663.41 340.01 L668.08 341.26 L672.76 342.44 L677.44 343.56 L682.12 344.62 L686.79 345.62 L691.47 346.57 L696.15 347.48 L700.82 348.33 L705.5 349.14 L710.18 349.92 L714.86 350.65 L719.53 351.35 L724.21 352.01 L728.89 352.64 L733.57 353.24 L738.24 353.81 L742.92 354.36 L747.6 354.88 L752.28 355.38 L756.95 355.85 L761.63 356.3 L766.31 356.73 L770.98 357.14 L775.66 357.54 L780.34 357.92 L785.02 358.28 L789.69 358.62 L794.37 358.95 L799.05 359.27 L803.73 359.57 L808.4 359.87 L813.08 360.15 L817.76 360.42 L822.43 360.67 L827.11 360.92 L831.79 361.16 L836.47 361.39 L841.14 361.61 L845.82 361.82 L850.5 362.03 L855.18 362.22 L859.85 362.41 L864.53 362.59 L869.21 362.77 L873.89 362.94 L878.56 363.1 L883.24 363.26" fill="none" stroke="#ff55b4" stroke-width="2.3"/>
<path d="M46 403.53 L50.68 403.41 L55.35 403.3 L60.03 403.18 L64.71 403.05 L69.39 402.93 L74.06 402.8 L78.74 402.66 L83.42 402.52 L88.1 402.38 L92.77 402.23 L97.45 402.08 L102.13 401.92 L106.81 401.76 L111.48 401.59 L116.16 401.42 L120.84 401.24 L125.51 401.05 L130.19 400.86 L134.87 400.66 L139.55 400.45 L144.22 400.24 L148.9 400.02 L153.58 399.79 L158.26 399.55 L162.93 399.3 L167.61 399.05 L172.29 398.78 L176.96 398.5 L181.64 398.21 L186.32 397.91 L191 397.6 L195.67 397.28 L200.35 396.94 L205.03 396.58 L209.71 396.22 L214.38 395.83 L219.06 395.43 L223.74 395.01 L228.42 394.57 L233.09 394.11 L237.77 393.63 L242.45 393.13 L247.12 392.61 L251.8 392.06 L256.48 391.48 L261.16 390.87 L265.83 390.23 L270.51 389.56 L275.19 388.86 L279.87 388.12 L284.54 387.34 L289.22 386.52 L293.9 385.66 L298.58 384.75 L303.25 383.79 L307.93 382.78 L312.61 381.71 L317.28 380.58 L321.96 379.39 L326.64 378.13 L331.32 376.81 L335.99 375.4 L340.67 373.91 L345.35 372.34 L350.03 370.69 L354.7 368.93 L359.38 367.08 L364.06 365.13 L368.73 363.06 L373.41 360.89 L378.09 358.61 L382.77 356.21 L387.44 353.69 L392.12 351.05 L396.8 348.31 L401.48 345.45 L406.15 342.49 L410.83 339.44 L415.51 336.32 L420.19 333.14 L424.86 329.92 L429.54 326.71 L434.22 323.52 L438.89 320.4 L443.57 317.4 L448.25 314.55 L452.93 311.92 L457.6 309.55 L462.28 307.5 L466.96 305.8 L471.64 304.51 L476.31 303.65 L480.99 303.24 L485.67 303.29 L490.35 303.8 L495.02 304.74 L499.7 306.09 L504.38 307.81 L509.05 309.87 L513.73 312.22 L518.41 314.81 L523.09 317.59 L527.76 320.51 L532.44 323.53 L537.12 326.61 L541.8 329.7 L546.47 332.79 L551.15 335.83 L555.83 338.82 L560.51 341.73 L565.18 344.56 L569.86 347.29 L574.54 349.91 L579.21 352.43 L583.89 354.83 L588.57 357.13 L593.25 359.31 L597.92 361.4 L602.6 363.37 L607.28 365.25 L611.96 367.03 L616.63 368.72 L621.31 370.32 L625.99 371.83 L630.66 373.27 L635.34 374.63 L640.02 375.93 L644.7 377.15 L649.37 378.31 L654.05 379.41 L658.73 380.45 L663.41 381.45 L668.08 382.39 L672.76 383.28 L677.44 384.13 L682.12 384.94 L686.79 385.71 L691.47 386.44 L696.15 387.14 L700.82 387.8 L705.5 388.43 L710.18 389.04 L714.86 389.61 L719.53 390.16 L724.21 390.69 L728.89 391.19 L733.57 391.67 L738.24 392.13 L742.92 392.57 L747.6 392.99 L752.28 393.39 L756.95 393.78 L761.63 394.15 L766.31 394.5 L770.98 394.84 L775.66 395.17 L780.34 395.49 L785.02 395.79 L789.69 396.08 L794.37 396.36 L799.05 396.63 L803.73 396.89 L808.4 397.14 L813.08 397.38 L817.76 397.61 L822.43 397.83 L827.11 398.05 L831.79 398.25 L836.47 398.45 L841.14 398.65 L845.82 398.84 L850.5 399.02 L855.18 399.19 L859.85 399.36 L864.53 399.52 L869.21 399.68 L873.89 399.83 L878.56 399.98 L883.24 400.12 L883.24 407.3 L46 407.3 Z" fill="#fff" stroke="none"/>
<path d="M46 403.53 L50.68 403.41 L55.35 403.3 L60.03 403.18 L64.71 403.05 L69.39 402.93 L74.06 402.8 L78.74 402.66 L83.42 402.52 L88.1 402.38 L92.77 402.23 L97.45 402.08 L102.13 401.92 L106.81 401.76 L111.48 401.59 L116.16 401.42 L120.84 401.24 L125.51 401.05 L130.19 400.86 L134.87 400.66 L139.55 400.45 L144.22 400.24 L148.9 400.02 L153.58 399.79 L158.26 399.55 L162.93 399.3 L167.61 399.05 L172.29 398.78 L176.96 398.5 L181.64 398.21 L186.32 397.91 L191 397.6 L195.67 397.28 L200.35 396.94 L205.03 396.58 L209.71 396.22 L214.38 395.83 L219.06 395.43 L223.74 395.01 L228.42 394.57 L233.09 394.11 L237.77 393.63 L242.45 393.13 L247.12 392.61 L251.8 392.06 L256.48 391.48 L261.16 390.87 L265.83 390.23 L270.51 389.56 L275.19 388.86 L279.87 388.12 L284.54 387.34 L289.22 386.52 L293.9 385.66 L298.58 384.75 L303.25 383.79 L307.93 382.78 L312.61 381.71 L317.28 380.58 L321.96 379.39 L326.64 378.13 L331.32 376.81 L335.99 375.4 L340.67 373.91 L345.35 372.34 L350.03 370.69 L354.7 368.93 L359.38 367.08 L364.06 365.13 L368.73 363.06 L373.41 360.89 L378.09 358.61 L382.77 356.21 L387.44 353.69 L392.12 351.05 L396.8 348.31 L401.48 345.45 L406.15 342.49 L410.83 339.44 L415.51 336.32 L420.19 333.14 L424.86 329.92 L429.54 326.71 L434.22 323.52 L438.89 320.4 L443.57 317.4 L448.25 314.55 L452.93 311.92 L457.6 309.55 L462.28 307.5 L466.96 305.8 L471.64 304.51 L476.31 303.65 L480.99 303.24 L485.67 303.29 L490.35 303.8 L495.02 304.74 L499.7 306.09 L504.38 307.81 L509.05 309.87 L513.73 312.22 L518.41 314.81 L523.09 317.59 L527.76 320.51 L532.44 323.53 L537.12 326.61 L541.8 329.7 L546.47 332.79 L551.15 335.83 L555.83 338.82 L560.51 341.73 L565.18 344.56 L569.86 347.29 L574.54 349.91 L579.21 352.43 L583.89 354.83 L588.57 357.13 L593.25 359.31 L597.92 361.4 L602.6 363.37 L607.28 365.25 L611.96 367.03 L616.63 368.72 L621.31 370.32 L625.99 371.83 L630.66 373.27 L635.34 374.63 L640.02 375.93 L644.7 377.15 L649.37 378.31 L654.05 379.41 L658.73 380.45 L663.41 381.45 L668.08 382.39 L672.76 383.28 L677.44 384.13 L682.12 384.94 L686.79 385.71 L691.47 386.44 L696.15 387.14 L700.82 387.8 L705.5 388.43 L710.18 389.04 L714.86 389.61 L719.53 390.16 L724.21 390.69 L728.89 391.19 L733.57 391.67 L738.24 392.13 L742.92 392.57 L747.6 392.99 L752.28 393.39 L756.95 393.78 L761.63 394.15 L766.31 394.5 L770.98 394.84 L775.66 395.17 L780.34 395.49 L785.02 395.79 L789.69 396.08 L794.37 396.36 L799.05 396.63 L803.73 396.89 L808.4 397.14 L813.08 397.38 L817.76 397.61 L822.43 397.83 L827.11 398.05 L831.79 398.25 L836.47 398.45 L841.14 398.65 L845.82 398.84 L850.5 399.02 L855.18 399.19 L859.85 399.36 L864.53 399.52 L869.21 399.68 L873.89 399.83 L878.56 399.98 L883.24 400.12" fill="none" stroke="#aa5aff" stroke-width="2.3"/>
<path d="M46 439.41 L50.68 439.29 L55.35 439.16 L60.03 439.03 L64.71 438.9 L69.39 438.76 L74.06 438.62 L78.74 438.47 L83.42 438.33 L88.1 438.17 L92.77 438.01 L97.45 437.85 L102.13 437.68 L106.81 437.51 L111.48 437.33 L116.16 437.14 L120.84 436.95 L125.51 436.76 L130.19 436.56 L134.87 436.35 L139.55 436.13 L144.22 435.9 L148.9 435.67 L153.58 435.43 L158.26 435.18 L162.93 434.93 L167.61 434.66 L172.29 434.38 L176.96 434.1 L181.64 433.8 L186.32 433.49 L191 433.17 L195.67 432.84 L200.35 432.49 L205.03 432.13 L209.71 431.76 L214.38 431.37 L219.06 430.96 L223.74 430.54 L228.42 430.1 L233.09 429.64 L237.77 429.16 L242.45 428.66 L247.12 428.13 L251.8 427.59 L256.48 427.01 L261.16 426.42 L265.83 425.79 L270.51 425.13 L275.19 424.44 L279.87 423.72 L284.54 422.96 L289.22 422.17 L293.9 421.33 L298.58 420.46 L303.25 419.53 L307.93 418.57 L312.61 417.55 L317.28 416.47 L321.96 415.34 L326.64 414.15 L331.32 412.9 L335.99 411.58 L340.67 410.2 L345.35 408.73 L350.03 407.19 L354.7 405.57 L359.38 403.87 L364.06 402.08 L368.73 400.19 L373.41 398.22 L378.09 396.15 L382.77 393.98 L387.44 391.72 L392.12 389.37 L396.8 386.92 L401.48 384.39 L406.15 381.79 L410.83 379.12 L415.51 376.39 L420.19 373.64 L424.86 370.87 L429.54 368.11 L434.22 365.4 L438.89 362.77 L443.57 360.25 L448.25 357.88 L452.93 355.72 L457.6 353.79 L462.28 352.15 L466.96 350.82 L471.64 349.84 L476.31 349.23 L480.99 349.01 L485.67 349.13 L490.35 349.56 L495.02 350.29 L499.7 351.29 L504.38 352.55 L509.05 354.05 L513.73 355.76 L518.41 357.66 L523.09 359.71 L527.76 361.9 L532.44 364.19 L537.12 366.55 L541.8 368.96 L546.47 371.4 L551.15 373.86 L555.83 376.3 L560.51 378.72 L565.18 381.1 L569.86 383.43 L574.54 385.71 L579.21 387.92 L583.89 390.07 L588.57 392.15 L593.25 394.15 L597.92 396.08 L602.6 397.93 L607.28 399.71 L611.96 401.42 L616.63 403.05 L621.31 404.61 L625.99 406.1 L630.66 407.53 L635.34 408.89 L640.02 410.19 L644.7 411.43 L649.37 412.62 L654.05 413.75 L658.73 414.83 L663.41 415.85 L668.08 416.84 L672.76 417.77 L677.44 418.67 L682.12 419.52 L686.79 420.34 L691.47 421.12 L696.15 421.86 L700.82 422.58 L705.5 423.26 L710.18 423.91 L714.86 424.53 L719.53 425.13 L724.21 425.7 L728.89 426.25 L733.57 426.77 L738.24 427.27 L742.92 427.75 L747.6 428.22 L752.28 428.66 L756.95 429.08 L761.63 429.49 L766.31 429.89 L770.98 430.26 L775.66 430.63 L780.34 430.97 L785.02 431.31 L789.69 431.63 L794.37 431.94 L799.05 432.24 L803.73 432.53 L808.4 432.81 L813.08 433.08 L817.76 433.33 L822.43 433.58 L827.11 433.82 L831.79 434.06 L836.47 434.28 L841.14 434.5 L845.82 434.7 L850.5 434.91 L855.18 435.1 L859.85 435.29 L864.53 435.47 L869.21 435.65 L873.89 435.82 L878.56 435.98 L883.24 436.14 L883.24 443.45 L46 443.45 Z" fill="#fff" stroke="none"/>
<path d="M46 439.41 L50.68 439.29 L55.35 439.16 L60.03 439.03 L64.71 438.9 L69.39 438.76 L74.06 438.62 L78.74 438.47 L83.42 438.33 L88.1 438.17 L92.77 438.01 L97.45 437.85 L102.13 437.68 L106.81 437.51 L111.48 437.33 L116.16 437.14 L120.84 436.95 L125.51 436.76 L130.19 436.56 L134.87 436.35 L139.55 436.13 L144.22 435.9 L148.9 435.67 L153.58 435.43 L158.26 435.18 L162.93 434.93 L167.61 434.66 L172.29 434.38 L176.96 434.1 L181.64 433.8 L186.32 433.49 L191 433.17 L195.67 432.84 L200.35 432.49 L205.03 432.13 L209.71 431.76 L214.38 431.37 L219.06 430.96 L223.74 430.54 L228.42 430.1 L233.09 429.64 L237.77 429.16 L242.45 428.66 L247.12 428.13 L251.8 427.59 L256.48 427.01 L261.16 426.42 L265.83 425.79 L270.51 425.13 L275.19 424.44 L279.87 423.72 L284.54 422.96 L289.22 422.17 L293.9 421.33 L298.58 420.46 L303.25 419.53 L307.93 418.57 L312.61 417.55 L317.28 416.47 L321.96 415.34 L326.64 414.15 L331.32 412.9 L335.99 411.58 L340.67 410.2 L345.35 408.73 L350.03 407.19 L354.7 405.57 L359.38 403.87 L364.06 402.08 L368.73 400.19 L373.41 398.22 L378.09 396.15 L382.77 393.98 L387.44 391.72 L392.12 389.37 L396.8 386.92 L401.48 384.39 L406.15 381.79 L410.83 379.12 L415.51 376.39 L420.19 373.64 L424.86 370.87 L429.54 368.11 L434.22 365.4 L438.89 362.77 L443.57 360.25 L448.25 357.88 L452.93 355.72 L457.6 353.79 L462.28 352.15 L466.96 350.82 L471.64 349.84 L476.31 349.23 L480.99 349.01 L485.67 349.13 L490.35 349.56 L495.02 350.29 L499.7 351.29 L504.38 352.55 L509.05 354.05 L513.73 355.76 L518.41 357.66 L523.09 359.71 L527.76 361.9 L532.44 364.19 L537.12 366.55 L541.8 368.96 L546.47 371.4 L551.15 373.86 L555.83 376.3 L560.51 378.72 L565.18 381.1 L569.86 383.43 L574.54 385.71 L579.21 387.92 L583.89 390.07 L588.57 392.15 L593.25 394.15 L597.92 396.08 L602.6 397.93 L607.28 399.71 L611.96 401.42 L616.63 403.05 L621.31 404.61 L625.99 406.1 L630.66 407.53 L635.34 408.89 L640.02 410.19 L644.7 411.43 L649.37 412.62 L654.05 413.75 L658.73 414.83 L663.41 415.85 L668.08 416.84 L672.76 417.77 L677.44 418.67 L682.12 419.52 L686.79 420.34 L691.47 421.12 L696.15 421.86 L700.82 422.58 L705.5 423.26 L710.18 423.91 L714.86 424.53 L719.53 425.13 L724.21 425.7 L728.89 426.25 L733.57 426.77 L738.24 427.27 L742.92 427.75 L747.6 428.22 L752.28 428.66 L756.95 429.08 L761.63 429.49 L766.31 429.89 L770.98 430.26 L775.66 430.63 L780.34 430.97 L785.02 431.31 L789.69 431.63 L794.37 431.94 L799.05 432.24 L803.73 432.53 L808.4 432.81 L813.08 433.08 L817.76 433.33 L822.43 433.58 L827.11 433.82 L831.79 434.06 L836.47 434.28 L841.14 434.5 L845.82 434.7 L850.5 434.91 L855.18 435.1 L859.85 435.29 L864.53 435.47 L869.21 435.65 L873.89 435.82 L878.56 435.98 L883.24 436.14" fill="none" stroke="#46aaff" stroke-width="2.3"/>
<path d="M46 476.07 L50.68 475.98 L55.35 475.89 L60.03 475.8 L64.71 475.7 L69.39 475.6 L74.06 475.5 L78.74 475.39 L83.42 475.28 L88.1 475.17 L92.77 475.06 L97.45 474.94 L102.13 474.81 L106.81 474.68 L111.48 474.55 L116.16 474.41 L120.84 474.27 L125.51 474.12 L130.19 473.97 L134.87 473.81 L139.55 473.64 L144.22 473.47 L148.9 473.29 L153.58 473.11 L158.26 472.91 L162.93 472.71 L167.61 472.51 L172.29 472.29 L176.96 472.07 L181.64 471.83 L186.32 471.59 L191 471.33 L195.67 471.07 L200.35 470.79 L205.03 470.5 L209.71 470.2 L214.38 469.88 L219.06 469.55 L223.74 469.21 L228.42 468.85 L233.09 468.47 L237.77 468.07 L242.45 467.66 L247.12 467.23 L251.8 466.77 L256.48 466.29 L261.16 465.79 L265.83 465.27 L270.51 464.72 L275.19 464.14 L279.87 463.53 L284.54 462.88 L289.22 462.21 L293.9 461.5 L298.58 460.76 L303.25 459.97 L307.93 459.15 L312.61 458.28 L317.28 457.36 L321.96 456.4 L326.64 455.38 L331.32 454.31 L335.99 453.19 L340.67 452.01 L345.35 450.77 L350.03 449.46 L354.7 448.09 L359.38 446.66 L364.06 445.15 L368.73 443.58 L373.41 441.94 L378.09 440.23 L382.77 438.45 L387.44 436.6 L392.12 434.7 L396.8 432.73 L401.48 430.72 L406.15 428.66 L410.83 426.57 L415.51 424.46 L420.19 422.34 L424.86 420.23 L429.54 418.16 L434.22 416.14 L438.89 414.19 L443.57 412.34 L448.25 410.61 L452.93 409.04 L457.6 407.64 L462.28 406.44 L466.96 405.46 L471.64 404.72 L476.31 404.24 L480.99 404.01 L485.67 404.05 L490.35 404.34 L495.02 404.87 L499.7 405.64 L504.38 406.63 L509.05 407.82 L513.73 409.19 L518.41 410.71 L523.09 412.38 L527.76 414.15 L532.44 416.01 L537.12 417.94 L541.8 419.91 L546.47 421.91 L551.15 423.91 L555.83 425.91 L560.51 427.88 L565.18 429.83 L569.86 431.73 L574.54 433.59 L579.21 435.4 L583.89 437.15 L588.57 438.83 L593.25 440.46 L597.92 442.02 L602.6 443.52 L607.28 444.96 L611.96 446.33 L616.63 447.65 L621.31 448.9 L625.99 450.1 L630.66 451.24 L635.34 452.32 L640.02 453.36 L644.7 454.34 L649.37 455.28 L654.05 456.18 L658.73 457.03 L663.41 457.84 L668.08 458.61 L672.76 459.35 L677.44 460.05 L682.12 460.72 L686.79 461.35 L691.47 461.96 L696.15 462.54 L700.82 463.09 L705.5 463.62 L710.18 464.12 L714.86 464.6 L719.53 465.06 L724.21 465.5 L728.89 465.92 L733.57 466.32 L738.24 466.7 L742.92 467.07 L747.6 467.42 L752.28 467.76 L756.95 468.08 L761.63 468.39 L766.31 468.68 L770.98 468.97 L775.66 469.24 L780.34 469.5 L785.02 469.76 L789.69 470 L794.37 470.23 L799.05 470.45 L803.73 470.67 L808.4 470.87 L813.08 471.07 L817.76 471.26 L822.43 471.45 L827.11 471.63 L831.79 471.8 L836.47 471.96 L841.14 472.12 L845.82 472.28 L850.5 472.42 L855.18 472.57 L859.85 472.7 L864.53 472.84 L869.21 472.97 L873.89 473.09 L878.56 473.21 L883.24 473.33 L883.24 479.6 L46 479.6 Z" fill="#fff" stroke="none"/>
<path d="M46 476.07 L50.68 475.98 L55.35 475.89 L60.03 475.8 L64.71 475.7 L69.39 475.6 L74.06 475.5 L78.74 475.39 L83.42 475.28 L88.1 475.17 L92.77 475.06 L97.45 474.94 L102.13 474.81 L106.81 474.68 L111.48 474.55 L116.16 474.41 L120.84 474.27 L125.51 474.12 L130.19 473.97 L134.87 473.81 L139.55 473.64 L144.22 473.47 L148.9 473.29 L153.58 473.11 L158.26 472.91 L162.93 472.71 L167.61 472.51 L172.29 472.29 L176.96 472.07 L181.64 471.83 L186.32 471.59 L191 471.33 L195.67 471.07 L200.35 470.79 L205.03 470.5 L209.71 470.2 L214.38 469.88 L219.06 469.55 L223.74 469.21 L228.42 468.85 L233.09 468.47 L237.77 468.07 L242.45 467.66 L247.12 467.23 L251.8 466.77 L256.48 466.29 L261.16 465.79 L265.83 465.27 L270.51 464.72 L275.19 464.14 L279.87 463.53 L284.54 462.88 L289.22 462.21 L293.9 461.5 L298.58 460.76 L303.25 459.97 L307.93 459.15 L312.61 458.28 L317.28 457.36 L321.96 456.4 L326.64 455.38 L331.32 454.31 L335.99 453.19 L340.67 452.01 L345.35 450.77 L350.03 449.46 L354.7 448.09 L359.38 446.66 L364.06 445.15 L368.73 443.58 L373.41 441.94 L378.09 440.23 L382.77 438.45 L387.44 436.6 L392.12 434.7 L396.8 432.73 L401.48 430.72 L406.15 428.66 L410.83 426.57 L415.51 424.46 L420.19 422.34 L424.86 420.23 L429.54 418.16 L434.22 416.14 L438.89 414.19 L443.57 412.34 L448.25 410.61 L452.93 409.04 L457.6 407.64 L462.28 406.44 L466.96 405.46 L471.64 404.72 L476.31 404.24 L480.99 404.01 L485.67 404.05 L490.35 404.34 L495.02 404.87 L499.7 405.64 L504.38 406.63 L509.05 407.82 L513.73 409.19 L518.41 410.71 L523.09 412.38 L527.76 414.15 L532.44 416.01 L537.12 417.94 L541.8 419.91 L546.47 421.91 L551.15 423.91 L555.83 425.91 L560.51 427.88 L565.18 429.83 L569.86 431.73 L574.54 433.59 L579.21 435.4 L583.89 437.15 L588.57 438.83 L593.25 440.46 L597.92 442.02 L602.6 443.52 L607.28 444.96 L611.96 446.33 L616.63 447.65 L621.31 448.9 L625.99 450.1 L630.66 451.24 L635.34 452.32 L640.02 453.36 L644.7 454.34 L649.37 455.28 L654.05 456.18 L658.73 457.03 L663.41 457.84 L668.08 458.61 L672.76 459.35 L677.44 460.05 L682.12 460.72 L686.79 461.35 L691.47 461.96 L696.15 462.54 L700.82 463.09 L705.5 463.62 L710.18 464.12 L714.86 464.6 L719.53 465.06 L724.21 465.5 L728.89 465.92 L733.57 466.32 L738.24 466.7 L742.92 467.07 L747.6 467.42 L752.28 467.76 L756.95 468.08 L761.63 468.39 L766.31 468.68 L770.98 468.97 L775.66 469.24 L780.34 469.5 L785.02 469.76 L789.69 470 L794.37 470.23 L799.05 470.45 L803.73 470.67 L808.4 470.87 L813.08 471.07 L817.76 471.26 L822.43 471.45 L827.11 471.63 L831.79 471.8 L836.47 471.96 L841.14 472.12 L845.82 472.28 L850.5 472.42 L855.18 472.57 L859.85 472.7 L864.53 472.84 L869.21 472.97 L873.89 473.09 L878.56 473.21 L883.24 473.33" fill="none" stroke="#4af7a8" stroke-width="2.3"/>
<path d="M46 512.3 L50.68 512.18 L55.35 512.05 L60.03 511.92 L64.71 511.79 L69.39 511.65 L74.06 511.51 L78.74 511.37 L83.42 511.22 L88.1 511.07 L92.77 510.91 L97.45 510.75 L102.13 510.59 L106.81 510.42 L111.48 510.25 L116.16 510.07 L120.84 509.89 L125.51 509.7 L130.19 509.5 L134.87 509.3 L139.55 509.09 L144.22 508.88 L148.9 508.66 L153.58 508.43 L158.26 508.2 L162.93 507.95 L167.61 507.7 L172.29 507.44 L176.96 507.17 L181.64 506.89 L186.32 506.61 L191 506.31 L195.67 506 L200.35 505.67 L205.03 505.34 L209.71 504.99 L214.38 504.63 L219.06 504.25 L223.74 503.86 L228.42 503.45 L233.09 503.03 L237.77 502.59 L242.45 502.12 L247.12 501.64 L251.8 501.13 L256.48 500.61 L261.16 500.05 L265.83 499.48 L270.51 498.87 L275.19 498.23 L279.87 497.57 L284.54 496.87 L289.22 496.13 L293.9 495.36 L298.58 494.54 L303.25 493.68 L307.93 492.78 L312.61 491.83 L317.28 490.82 L321.96 489.75 L326.64 488.63 L331.32 487.44 L335.99 486.18 L340.67 484.85 L345.35 483.43 L350.03 481.93 L354.7 480.34 L359.38 478.66 L364.06 476.87 L368.73 474.97 L373.41 472.96 L378.09 470.82 L382.77 468.56 L387.44 466.16 L392.12 463.63 L396.8 460.95 L401.48 458.13 L406.15 455.17 L410.83 452.06 L415.51 448.83 L420.19 445.47 L424.86 442.02 L429.54 438.48 L434.22 434.9 L438.89 431.31 L443.57 427.77 L448.25 424.34 L452.93 421.07 L457.6 418.05 L462.28 415.35 L466.96 413.04 L471.64 411.2 L476.31 409.89 L480.99 409.14 L485.67 408.99 L490.35 409.29 L495.02 410 L499.7 411.1 L504.38 412.57 L509.05 414.37 L513.73 416.47 L518.41 418.83 L523.09 421.41 L527.76 424.17 L532.44 427.06 L537.12 430.05 L541.8 433.1 L546.47 436.17 L551.15 439.25 L555.83 442.3 L560.51 445.31 L565.18 448.25 L569.86 451.12 L574.54 453.9 L579.21 456.59 L583.89 459.17 L588.57 461.66 L593.25 464.04 L597.92 466.31 L602.6 468.48 L607.28 470.55 L611.96 472.51 L616.63 474.38 L621.31 476.16 L625.99 477.85 L630.66 479.45 L635.34 480.97 L640.02 482.4 L644.7 483.77 L649.37 485.06 L654.05 486.29 L658.73 487.45 L663.41 488.56 L668.08 489.6 L672.76 490.6 L677.44 491.54 L682.12 492.43 L686.79 493.28 L691.47 494.09 L696.15 494.85 L700.82 495.58 L705.5 496.27 L710.18 496.93 L714.86 497.56 L719.53 498.16 L724.21 498.73 L728.89 499.27 L733.57 499.78 L738.24 500.28 L742.92 500.75 L747.6 501.19 L752.28 501.62 L756.95 502.03 L761.63 502.42 L766.31 502.8 L770.98 503.15 L775.66 503.49 L780.34 503.82 L785.02 504.13 L789.69 504.43 L794.37 504.72 L799.05 505 L803.73 505.26 L808.4 505.51 L813.08 505.75 L817.76 505.99 L822.43 506.21 L827.11 506.42 L831.79 506.63 L836.47 506.83 L841.14 507.02 L845.82 507.2 L850.5 507.38 L855.18 507.55 L859.85 507.71 L864.53 507.86 L869.21 508.02 L873.89 508.16 L878.56 508.3 L883.24 508.43 L883.24 515.75 L46 515.75 Z" fill="#fff" stroke="none"/>
<path d="M46 512.3 L50.68 512.18 L55.35 512.05 L60.03 511.92 L64.71 511.79 L69.39 511.65 L74.06 511.51 L78.74 511.37 L83.42 511.22 L88.1 511.07 L92.77 510.91 L97.45 510.75 L102.13 510.59 L106.81 510.42 L111.48 510.25 L116.16 510.07 L120.84 509.89 L125.51 509.7 L130.19 509.5 L134.87 509.3 L139.55 509.09 L144.22 508.88 L148.9 508.66 L153.58 508.43 L158.26 508.2 L162.93 507.95 L167.61 507.7 L172.29 507.44 L176.96 507.17 L181.64 506.89 L186.32 506.61 L191 506.31 L195.67 506 L200.35 505.67 L205.03 505.34 L209.71 504.99 L214.38 504.63 L219.06 504.25 L223.74 503.86 L228.42 503.45 L233.09 503.03 L237.77 502.59 L242.45 502.12 L247.12 501.64 L251.8 501.13 L256.48 500.61 L261.16 500.05 L265.83 499.48 L270.51 498.87 L275.19 498.23 L279.87 497.57 L284.54 496.87 L289.22 496.13 L293.9 495.36 L298.58 494.54 L303.25 493.68 L307.93 492.78 L312.61 491.83 L317.28 490.82 L321.96 489.75 L326.64 488.63 L331.32 487.44 L335.99 486.18 L340.67 484.85 L345.35 483.43 L350.03 481.93 L354.7 480.34 L359.38 478.66 L364.06 476.87 L368.73 474.97 L373.41 472.96 L378.09 470.82 L382.77 468.56 L387.44 466.16 L392.12 463.63 L396.8 460.95 L401.48 458.13 L406.15 455.17 L410.83 452.06 L415.51 448.83 L420.19 445.47 L424.86 442.02 L429.54 438.48 L434.22 434.9 L438.89 431.31 L443.57 427.77 L448.25 424.34 L452.93 421.07 L457.6 418.05 L462.28 415.35 L466.96 413.04 L471.64 411.2 L476.31 409.89 L480.99 409.14 L485.67 408.99 L490.35 409.29 L495.02 410 L499.7 411.1 L504.38 412.57 L509.05 414.37 L513.73 416.47 L518.41 418.83 L523.09 421.41 L527.76 424.17 L532.44 427.06 L537.12 430.05 L541.8 433.1 L546.47 436.17 L551.15 439.25 L555.83 442.3 L560.51 445.31 L565.18 448.25 L569.86 451.12 L574.54 453.9 L579.21 456.59 L583.89 459.17 L588.57 461.66 L593.25 464.04 L597.92 466.31 L602.6 468.48 L607.28 470.55 L611.96 472.51 L616.63 474.38 L621.31 476.16 L625.99 477.85 L630.66 479.45 L635.34 480.97 L640.02 482.4 L644.7 483.77 L649.37 485.06 L654.05 486.29 L658.73 487.45 L663.41 488.56 L668.08 489.6 L672.76 490.6 L677.44 491.54 L682.12 492.43 L686.79 493.28 L691.47 494.09 L696.15 494.85 L700.82 495.58 L705.5 496.27 L710.18 496.93 L714.86 497.56 L719.53 498.16 L724.21 498.73 L728.89 499.27 L733.57 499.78 L738.24 500.28 L742.92 500.75 L747.6 501.19 L752.28 501.62 L756.95 502.03 L761.63 502.42 L766.31 502.8 L770.98 503.15 L775.66 503.49 L780.34 503.82 L785.02 504.13 L789.69 504.43 L794.37 504.72 L799.05 505 L803.73 505.26 L808.4 505.51 L813.08 505.75 L817.76 505.99 L822.43 506.21 L827.11 506.42 L831.79 506.63 L836.47 506.83 L841.14 507.02 L845.82 507.2 L850.5 507.38 L855.18 507.55 L859.85 507.71 L864.53 507.86 L869.21 508.02 L873.89 508.16 L878.56 508.3 L883.24 508.43" fill="none" stroke="#a8f848" stroke-width="2.3"/>
<path d="M46 548.17 L50.68 548.03 L55.35 547.89 L60.03 547.75 L64.71 547.61 L69.39 547.46 L74.06 547.3 L78.74 547.14 L83.42 546.98 L88.1 546.81 L92.77 546.64 L97.45 546.46 L102.13 546.27 L106.81 546.08 L111.48 545.88 L116.16 545.68 L120.84 545.47 L125.51 545.26 L130.19 545.03 L134.87 544.8 L139.55 544.56 L144.22 544.31 L148.9 544.06 L153.58 543.79 L158.26 543.51 L162.93 543.23 L167.61 542.93 L172.29 542.62 L176.96 542.3 L181.64 541.97 L186.32 541.62 L191 541.26 L195.67 540.89 L200.35 540.5 L205.03 540.09 L209.71 539.67 L214.38 539.22 L219.06 538.76 L223.74 538.28 L228.42 537.77 L233.09 537.25 L237.77 536.69 L242.45 536.12 L247.12 535.51 L251.8 534.88 L256.48 534.21 L261.16 533.51 L265.83 532.78 L270.51 532.01 L275.19 531.2 L279.87 530.34 L284.54 529.45 L289.22 528.5 L293.9 527.5 L298.58 526.45 L303.25 525.35 L307.93 524.18 L312.61 522.95 L317.28 521.64 L321.96 520.27 L326.64 518.82 L331.32 517.29 L335.99 515.67 L340.67 513.96 L345.35 512.15 L350.03 510.25 L354.7 508.24 L359.38 506.13 L364.06 503.9 L368.73 501.57 L373.41 499.12 L378.09 496.56 L382.77 493.88 L387.44 491.1 L392.12 488.23 L396.8 485.26 L401.48 482.22 L406.15 479.12 L410.83 476 L415.51 472.86 L420.19 469.76 L424.86 466.73 L429.54 463.81 L434.22 461.05 L438.89 458.5 L443.57 456.21 L448.25 454.23 L452.93 452.61 L457.6 451.39 L462.28 450.6 L466.96 450.25 L471.64 450.34 L476.31 450.82 L480.99 451.66 L485.67 452.86 L490.35 454.39 L495.02 456.22 L499.7 458.3 L504.38 460.62 L509.05 463.12 L513.73 465.76 L518.41 468.52 L523.09 471.36 L527.76 474.24 L532.44 477.13 L537.12 480.02 L541.8 482.88 L546.47 485.69 L551.15 488.43 L555.83 491.11 L560.51 493.69 L565.18 496.19 L569.86 498.6 L574.54 500.91 L579.21 503.12 L583.89 505.23 L588.57 507.25 L593.25 509.17 L597.92 511 L602.6 512.74 L607.28 514.4 L611.96 515.97 L616.63 517.46 L621.31 518.87 L625.99 520.22 L630.66 521.49 L635.34 522.7 L640.02 523.85 L644.7 524.93 L649.37 525.97 L654.05 526.95 L658.73 527.88 L663.41 528.76 L668.08 529.6 L672.76 530.39 L677.44 531.15 L682.12 531.87 L686.79 532.56 L691.47 533.21 L696.15 533.83 L700.82 534.42 L705.5 534.98 L710.18 535.52 L714.86 536.03 L719.53 536.52 L724.21 536.98 L728.89 537.43 L733.57 537.85 L738.24 538.26 L742.92 538.64 L747.6 539.01 L752.28 539.37 L756.95 539.71 L761.63 540.03 L766.31 540.34 L770.98 540.64 L775.66 540.92 L780.34 541.2 L785.02 541.46 L789.69 541.71 L794.37 541.95 L799.05 542.18 L803.73 542.4 L808.4 542.62 L813.08 542.82 L817.76 543.02 L822.43 543.21 L827.11 543.39 L831.79 543.56 L836.47 543.73 L841.14 543.89 L845.82 544.05 L850.5 544.2 L855.18 544.34 L859.85 544.48 L864.53 544.62 L869.21 544.75 L873.89 544.87 L878.56 544.99 L883.24 545.11 L883.24 551.9 L46 551.9 Z" fill="#fff" stroke="none"/>
<path d="M46 548.17 L50.68 548.03 L55.35 547.89 L60.03 547.75 L64.71 547.61 L69.39 547.46 L74.06 547.3 L78.74 547.14 L83.42 546.98 L88.1 546.81 L92.77 546.64 L97.45 546.46 L102.13 546.27 L106.81 546.08 L111.48 545.88 L116.16 545.68 L120.84 545.47 L125.51 545.26 L130.19 545.03 L134.87 544.8 L139.55 544.56 L144.22 544.31 L148.9 544.06 L153.58 543.79 L158.26 543.51 L162.93 543.23 L167.61 542.93 L172.29 542.62 L176.96 542.3 L181.64 541.97 L186.32 541.62 L191 541.26 L195.67 540.89 L200.35 540.5 L205.03 540.09 L209.71 539.67 L214.38 539.22 L219.06 538.76 L223.74 538.28 L228.42 537.77 L233.09 537.25 L237.77 536.69 L242.45 536.12 L247.12 535.51 L251.8 534.88 L256.48 534.21 L261.16 533.51 L265.83 532.78 L270.51 532.01 L275.19 531.2 L279.87 530.34 L284.54 529.45 L289.22 528.5 L293.9 527.5 L298.58 526.45 L303.25 525.35 L307.93 524.18 L312.61 522.95 L317.28 521.64 L321.96 520.27 L326.64 518.82 L331.32 517.29 L335.99 515.67 L340.67 513.96 L345.35 512.15 L350.03 510.25 L354.7 508.24 L359.38 506.13 L364.06 503.9 L368.73 501.57 L373.41 499.12 L378.09 496.56 L382.77 493.88 L387.44 491.1 L392.12 488.23 L396.8 485.26 L401.48 482.22 L406.15 479.12 L410.83 476 L415.51 472.86 L420.19 469.76 L424.86 466.73 L429.54 463.81 L434.22 461.05 L438.89 458.5 L443.57 456.21 L448.25 454.23 L452.93 452.61 L457.6 451.39 L462.28 450.6 L466.96 450.25 L471.64 450.34 L476.31 450.82 L480.99 451.66 L485.67 452.86 L490.35 454.39 L495.02 456.22 L499.7 458.3 L504.38 460.62 L509.05 463.12 L513.73 465.76 L518.41 468.52 L523.09 471.36 L527.76 474.24 L532.44 477.13 L537.12 480.02 L541.8 482.88 L546.47 485.69 L551.15 488.43 L555.83 491.11 L560.51 493.69 L565.18 496.19 L569.86 498.6 L574.54 500.91 L579.21 503.12 L583.89 505.23 L588.57 507.25 L593.25 509.17 L597.92 511 L602.6 512.74 L607.28 514.4 L611.96 515.97 L616.63 517.46 L621.31 518.87 L625.99 520.22 L630.66 521.49 L635.34 522.7 L640.02 523.85 L644.7 524.93 L649.37 525.97 L654.05 526.95 L658.73 527.88 L663.41 528.76 L668.08 529.6 L672.76 530.39 L677.44 531.15 L682.12 531.87 L686.79 532.56 L691.47 533.21 L696.15 533.83 L700.82 534.42 L705.5 534.98 L710.18 535.52 L714.86 536.03 L719.53 536.52 L724.21 536.98 L728.89 537.43 L733.57 537.85 L738.24 538.26 L742.92 538.64 L747.6 539.01 L752.28 539.37 L756.95 539.71 L761.63 540.03 L766.31 540.34 L770.98 540.64 L775.66 540.92 L780.34 541.2 L785.02 541.46 L789.69 541.71 L794.37 541.95 L799.05 542.18 L803.73 542.4 L808.4 542.62 L813.08 542.82 L817.76 543.02 L822.43 543.21 L827.11 543.39 L831.79 543.56 L836.47 543.73 L841.14 543.89 L845.82 544.05 L850.5 544.2 L855.18 544.34 L859.85 544.48 L864.53 544.62 L869.21 544.75 L873.89 544.87 L878.56 544.99 L883.24 545.11" fill="none" stroke="#a0a05a" stroke-width="2.3"/>
<path d="M46 584.38 L50.68 584.27 L55.35 584.15 L60.03 584.03 L64.71 583.91 L69.39 583.78 L74.06 583.65 L78.74 583.51 L83.42 583.38 L88.1 583.23 L92.77 583.09 L97.45 582.94 L102.13 582.78 L106.81 582.62 L111.48 582.45 L116.16 582.28 L120.84 582.11 L125.51 581.93 L130.19 581.74 L134.87 581.55 L139.55 581.35 L144.22 581.14 L148.9 580.93 L153.58 580.71 L158.26 580.48 L162.93 580.25 L167.61 580 L172.29 579.75 L176.96 579.49 L181.64 579.21 L186.32 578.93 L191 578.64 L195.67 578.33 L200.35 578.02 L205.03 577.69 L209.71 577.35 L214.38 576.99 L219.06 576.62 L223.74 576.24 L228.42 575.84 L233.09 575.42 L237.77 574.98 L242.45 574.53 L247.12 574.05 L251.8 573.56 L256.48 573.04 L261.16 572.5 L265.83 571.93 L270.51 571.33 L275.19 570.71 L279.87 570.06 L284.54 569.37 L289.22 568.65 L293.9 567.9 L298.58 567.11 L303.25 566.27 L307.93 565.39 L312.61 564.47 L317.28 563.5 L321.96 562.48 L326.64 561.4 L331.32 560.26 L335.99 559.06 L340.67 557.8 L345.35 556.46 L350.03 555.05 L354.7 553.57 L359.38 552 L364.06 550.34 L368.73 548.59 L373.41 546.75 L378.09 544.81 L382.77 542.76 L387.44 540.61 L392.12 538.35 L396.8 535.98 L401.48 533.49 L406.15 530.9 L410.83 528.21 L415.51 525.41 L420.19 522.53 L424.86 519.56 L429.54 516.54 L434.22 513.47 L438.89 510.4 L443.57 507.34 L448.25 504.33 L452.93 501.42 L457.6 498.65 L462.28 496.07 L466.96 493.73 L471.64 491.68 L476.31 489.97 L480.99 488.64 L485.67 487.73 L490.35 487.25 L495.02 487.22 L499.7 487.59 L504.38 488.34 L509.05 489.45 L513.73 490.91 L518.41 492.67 L523.09 494.7 L527.76 496.96 L532.44 499.4 L537.12 502 L541.8 504.71 L546.47 507.49 L551.15 510.32 L555.83 513.15 L560.51 515.97 L565.18 518.76 L569.86 521.5 L574.54 524.18 L579.21 526.78 L583.89 529.29 L588.57 531.72 L593.25 534.05 L597.92 536.29 L602.6 538.44 L607.28 540.49 L611.96 542.45 L616.63 544.31 L621.31 546.09 L625.99 547.78 L630.66 549.4 L635.34 550.93 L640.02 552.38 L644.7 553.77 L649.37 555.09 L654.05 556.34 L658.73 557.53 L663.41 558.66 L668.08 559.74 L672.76 560.77 L677.44 561.74 L682.12 562.67 L686.79 563.56 L691.47 564.4 L696.15 565.2 L700.82 565.97 L705.5 566.7 L710.18 567.4 L714.86 568.07 L719.53 568.7 L724.21 569.31 L728.89 569.89 L733.57 570.45 L738.24 570.98 L742.92 571.49 L747.6 571.98 L752.28 572.45 L756.95 572.9 L761.63 573.33 L766.31 573.74 L770.98 574.14 L775.66 574.52 L780.34 574.89 L785.02 575.24 L789.69 575.58 L794.37 575.91 L799.05 576.22 L803.73 576.52 L808.4 576.81 L813.08 577.09 L817.76 577.36 L822.43 577.62 L827.11 577.87 L831.79 578.12 L836.47 578.35 L841.14 578.57 L845.82 578.79 L850.5 579 L855.18 579.21 L859.85 579.4 L864.53 579.59 L869.21 579.78 L873.89 579.96 L878.56 580.13 L883.24 580.3 L883.24 588.05 L46 588.05 Z" fill="#fff" stroke="none"/>
<path d="M46 584.38 L50.68 584.27 L55.35 584.15 L60.03 584.03 L64.71 583.91 L69.39 583.78 L74.06 583.65 L78.74 583.51 L83.42 583.38 L88.1 583.23 L92.77 583.09 L97.45 582.94 L102.13 582.78 L106.81 582.62 L111.48 582.45 L116.16 582.28 L120.84 582.11 L125.51 581.93 L130.19 581.74 L134.87 581.55 L139.55 581.35 L144.22 581.14 L148.9 580.93 L153.58 580.71 L158.26 580.48 L162.93 580.25 L167.61 580 L172.29 579.75 L176.96 579.49 L181.64 579.21 L186.32 578.93 L191 578.64 L195.67 578.33 L200.35 578.02 L205.03 577.69 L209.71 577.35 L214.38 576.99 L219.06 576.62 L223.74 576.24 L228.42 575.84 L233.09 575.42 L237.77 574.98 L242.45 574.53 L247.12 574.05 L251.8 573.56 L256.48 573.04 L261.16 572.5 L265.83 571.93 L270.51 571.33 L275.19 570.71 L279.87 570.06 L284.54 569.37 L289.22 568.65 L293.9 567.9 L298.58 567.11 L303.25 566.27 L307.93 565.39 L312.61 564.47 L317.28 563.5 L321.96 562.48 L326.64 561.4 L331.32 560.26 L335.99 559.06 L340.67 557.8 L345.35 556.46 L350.03 555.05 L354.7 553.57 L359.38 552 L364.06 550.34 L368.73 548.59 L373.41 546.75 L378.09 544.81 L382.77 542.76 L387.44 540.61 L392.12 538.35 L396.8 535.98 L401.48 533.49 L406.15 530.9 L410.83 528.21 L415.51 525.41 L420.19 522.53 L424.86 519.56 L429.54 516.54 L434.22 513.47 L438.89 510.4 L443.57 507.34 L448.25 504.33 L452.93 501.42 L457.6 498.65 L462.28 496.07 L466.96 493.73 L471.64 491.68 L476.31 489.97 L480.99 488.64 L485.67 487.73 L490.35 487.25 L495.02 487.22 L499.7 487.59 L504.38 488.34 L509.05 489.45 L513.73 490.91 L518.41 492.67 L523.09 494.7 L527.76 496.96 L532.44 499.4 L537.12 502 L541.8 504.71 L546.47 507.49 L551.15 510.32 L555.83 513.15 L560.51 515.97 L565.18 518.76 L569.86 521.5 L574.54 524.18 L579.21 526.78 L583.89 529.29 L588.57 531.72 L593.25 534.05 L597.92 536.29 L602.6 538.44 L607.28 540.49 L611.96 542.45 L616.63 544.31 L621.31 546.09 L625.99 547.78 L630.66 549.4 L635.34 550.93 L640.02 552.38 L644.7 553.77 L649.37 555.09 L654.05 556.34 L658.73 557.53 L663.41 558.66 L668.08 559.74 L672.76 560.77 L677.44 561.74 L682.12 562.67 L686.79 563.56 L691.47 564.4 L696.15 565.2 L700.82 565.97 L705.5 566.7 L710.18 567.4 L714.86 568.07 L719.53 568.7 L724.21 569.31 L728.89 569.89 L733.57 570.45 L738.24 570.98 L742.92 571.49 L747.6 571.98 L752.28 572.45 L756.95 572.9 L761.63 573.33 L766.31 573.74 L770.98 574.14 L775.66 574.52 L780.34 574.89 L785.02 575.24 L789.69 575.58 L794.37 575.91 L799.05 576.22 L803.73 576.52 L808.4 576.81 L813.08 577.09 L817.76 577.36 L822.43 577.62 L827.11 577.87 L831.79 578.12 L836.47 578.35 L841.14 578.57 L845.82 578.79 L850.5 579 L855.18 579.21 L859.85 579.4 L864.53 579.59 L869.21 579.78 L873.89 579.96 L878.56 580.13 L883.24 580.3" fill="none" stroke="#4646b9" stroke-width="2.3"/>
<path d="M46 621.14 L50.68 621.08 L55.35 621.03 L60.03 620.97 L64.71 620.91 L69.39 620.84 L74.06 620.78 L78.74 620.71 L83.42 620.64 L88.1 620.57 L92.77 620.49 L97.45 620.42 L102.13 620.33 L106.81 620.25 L111.48 620.16 L116.16 620.07 L120.84 619.98 L125.51 619.88 L130.19 619.77 L134.87 619.67 L139.55 619.56 L144.22 619.44 L148.9 619.32 L153.58 619.19 L158.26 619.06 L162.93 618.93 L167.61 618.78 L172.29 618.64 L176.96 618.48 L181.64 618.32 L186.32 618.15 L191 617.97 L195.67 617.79 L200.35 617.59 L205.03 617.39 L209.71 617.18 L214.38 616.95 L219.06 616.72 L223.74 616.48 L228.42 616.22 L233.09 615.95 L237.77 615.67 L242.45 615.37 L247.12 615.06 L251.8 614.73 L256.48 614.38 L261.16 614.02 L265.83 613.63 L270.51 613.23 L275.19 612.8 L279.87 612.35 L284.54 611.87 L289.22 611.37 L293.9 610.84 L298.58 610.28 L303.25 609.68 L307.93 609.05 L312.61 608.38 L317.28 607.67 L321.96 606.91 L326.64 606.11 L331.32 605.26 L335.99 604.36 L340.67 603.39 L345.35 602.37 L350.03 601.28 L354.7 600.11 L359.38 598.87 L364.06 597.55 L368.73 596.14 L373.41 594.63 L378.09 593.02 L382.77 591.31 L387.44 589.47 L392.12 587.52 L396.8 585.43 L401.48 583.2 L406.15 580.82 L410.83 578.29 L415.51 575.6 L420.19 572.73 L424.86 569.69 L429.54 566.47 L434.22 563.07 L438.89 559.48 L443.57 555.71 L448.25 551.77 L452.93 547.67 L457.6 543.43 L462.28 539.07 L466.96 534.62 L471.64 530.12 L476.31 525.62 L480.99 521.18 L485.67 516.85 L490.35 512.72 L495.02 508.86 L499.7 505.35 L504.38 502.26 L509.05 499.67 L513.73 497.65 L518.41 496.25 L523.09 495.51 L527.76 495.47 L532.44 496.27 L537.12 497.92 L541.8 500.36 L546.47 503.47 L551.15 507.16 L555.83 511.3 L560.51 515.76 L565.18 520.43 L569.86 525.21 L574.54 530.01 L579.21 534.75 L583.89 539.39 L588.57 543.88 L593.25 548.18 L597.92 552.29 L602.6 556.19 L607.28 559.87 L611.96 563.34 L616.63 566.6 L621.31 569.66 L625.99 572.52 L630.66 575.2 L635.34 577.71 L640.02 580.06 L644.7 582.25 L649.37 584.3 L654.05 586.22 L658.73 588.01 L663.41 589.7 L668.08 591.27 L672.76 592.75 L677.44 594.13 L682.12 595.44 L686.79 596.66 L691.47 597.81 L696.15 598.89 L700.82 599.92 L705.5 600.88 L710.18 601.79 L714.86 602.65 L719.53 603.46 L724.21 604.23 L728.89 604.96 L733.57 605.65 L738.24 606.3 L742.92 606.92 L747.6 607.51 L752.28 608.08 L756.95 608.61 L761.63 609.12 L766.31 609.61 L770.98 610.07 L775.66 610.51 L780.34 610.93 L785.02 611.34 L789.69 611.72 L794.37 612.09 L799.05 612.44 L803.73 612.78 L808.4 613.11 L813.08 613.42 L817.76 613.72 L822.43 614.01 L827.11 614.28 L831.79 614.55 L836.47 614.8 L841.14 615.05 L845.82 615.29 L850.5 615.51 L855.18 615.73 L859.85 615.95 L864.53 616.15 L869.21 616.35 L873.89 616.54 L878.56 616.72 L883.24 616.9 L883.24 624.2 L46 624.2 Z" fill="#fff" stroke="none"/>
<path d="M46 621.14 L50.68 621.08 L55.35 621.03 L60.03 620.97 L64.71 620.91 L69.39 620.84 L74.06 620.78 L78.74 620.71 L83.42 620.64 L88.1 620.57 L92.77 620.49 L97.45 620.42 L102.13 620.33 L106.81 620.25 L111.48 620.16 L116.16 620.07 L120.84 619.98 L125.51 619.88 L130.19 619.77 L134.87 619.67 L139.55 619.56 L144.22 619.44 L148.9 619.32 L153.58 619.19 L158.26 619.06 L162.93 618.93 L167.61 618.78 L172.29 618.64 L176.96 618.48 L181.64 618.32 L186.32 618.15 L191 617.97 L195.67 617.79 L200.35 617.59 L205.03 617.39 L209.71 617.18 L214.38 616.95 L219.06 616.72 L223.74 616.48 L228.42 616.22 L233.09 615.95 L237.77 615.67 L242.45 615.37 L247.12 615.06 L251.8 614.73 L256.48 614.38 L261.16 614.02 L265.83 613.63 L270.51 613.23 L275.19 612.8 L279.87 612.35 L284.54 611.87 L289.22 611.37 L293.9 610.84 L298.58 610.28 L303.25 609.68 L307.93 609.05 L312.61 608.38 L317.28 607.67 L321.96 606.91 L326.64 606.11 L331.32 605.26 L335.99 604.36 L340.67 603.39 L345.35 602.37 L350.03 601.28 L354.7 600.11 L359.38 598.87 L364.06 597.55 L368.73 596.14 L373.41 594.63 L378.09 593.02 L382.77 591.31 L387.44 589.47 L392.12 587.52 L396.8 585.43 L401.48 583.2 L406.15 580.82 L410.83 578.29 L415.51 575.6 L420.19 572.73 L424.86 569.69 L429.54 566.47 L434.22 563.07 L438.89 559.48 L443.57 555.71 L448.25 551.77 L452.93 547.67 L457.6 543.43 L462.28 539.07 L466.96 534.62 L471.64 530.12 L476.31 525.62 L480.99 521.18 L485.67 516.85 L490.35 512.72 L495.02 508.86 L499.7 505.35 L504.38 502.26 L509.05 499.67 L513.73 497.65 L518.41 496.25 L523.09 495.51 L527.76 495.47 L532.44 496.27 L537.12 497.92 L541.8 500.36 L546.47 503.47 L551.15 507.16 L555.83 511.3 L560.51 515.76 L565.18 520.43 L569.86 525.21 L574.54 530.01 L579.21 534.75 L583.89 539.39 L588.57 543.88 L593.25 548.18 L597.92 552.29 L602.6 556.19 L607.28 559.87 L611.96 563.34 L616.63 566.6 L621.31 569.66 L625.99 572.52 L630.66 575.2 L635.34 577.71 L640.02 580.06 L644.7 582.25 L649.37 584.3 L654.05 586.22 L658.73 588.01 L663.41 589.7 L668.08 591.27 L672.76 592.75 L677.44 594.13 L682.12 595.44 L686.79 596.66 L691.47 597.81 L696.15 598.89 L700.82 599.92 L705.5 600.88 L710.18 601.79 L714.86 602.65 L719.53 603.46 L724.21 604.23 L728.89 604.96 L733.57 605.65 L738.24 606.3 L742.92 606.92 L747.6 607.51 L752.28 608.08 L756.95 608.61 L761.63 609.12 L766.31 609.61 L770.98 610.07 L775.66 610.51 L780.34 610.93 L785.02 611.34 L789.69 611.72 L794.37 612.09 L799.05 612.44 L803.73 612.78 L808.4 613.11 L813.08 613.42 L817.76 613.72 L822.43 614.01 L827.11 614.28 L831.79 614.55 L836.47 614.8 L841.14 615.05 L845.82 615.29 L850.5 615.51 L855.18 615.73 L859.85 615.95 L864.53 616.15 L869.21 616.35 L873.89 616.54 L878.56 616.72 L883.24 616.9" fill="none" stroke="#000000" stroke-width="2.3"/>
<path d="M46 656.15 L50.68 656.03 L55.35 655.89 L60.03 655.76 L64.71 655.62 L69.39 655.47 L74.06 655.32 L78.74 655.17 L83.42 655.01 L88.1 654.85 L92.77 654.69 L97.45 654.51 L102.13 654.34 L106.81 654.16 L111.48 653.97 L116.16 653.77 L120.84 653.57 L125.51 653.37 L130.19 653.15 L134.87 652.93 L139.55 652.71 L144.22 652.47 L148.9 652.22 L153.58 651.97 L158.26 651.71 L162.93 651.44 L167.61 651.16 L172.29 650.86 L176.96 650.56 L181.64 650.24 L186.32 649.92 L191 649.58 L195.67 649.22 L200.35 648.86 L205.03 648.47 L209.71 648.07 L214.38 647.66 L219.06 647.22 L223.74 646.77 L228.42 646.3 L233.09 645.81 L237.77 645.29 L242.45 644.75 L247.12 644.19 L251.8 643.6 L256.48 642.98 L261.16 642.33 L265.83 641.66 L270.51 640.94 L275.19 640.2 L279.87 639.41 L284.54 638.59 L289.22 637.73 L293.9 636.82 L298.58 635.86 L303.25 634.86 L307.93 633.8 L312.61 632.69 L317.28 631.51 L321.96 630.28 L326.64 628.98 L331.32 627.61 L335.99 626.16 L340.67 624.64 L345.35 623.05 L350.03 621.36 L354.7 619.59 L359.38 617.73 L364.06 615.78 L368.73 613.74 L373.41 611.6 L378.09 609.36 L382.77 607.03 L387.44 604.61 L392.12 602.1 L396.8 599.51 L401.48 596.84 L406.15 594.12 L410.83 591.36 L415.51 588.56 L420.19 585.77 L424.86 583 L429.54 580.29 L434.22 577.66 L438.89 575.16 L443.57 572.82 L448.25 570.69 L452.93 568.8 L457.6 567.2 L462.28 565.91 L466.96 564.97 L471.64 564.39 L476.31 564.2 L480.99 564.36 L485.67 564.84 L490.35 565.65 L495.02 566.75 L499.7 568.13 L504.38 569.77 L509.05 571.63 L513.73 573.69 L518.41 575.91 L523.09 578.26 L527.76 580.71 L532.44 583.23 L537.12 585.79 L541.8 588.38 L546.47 590.96 L551.15 593.53 L555.83 596.06 L560.51 598.54 L565.18 600.96 L569.86 603.32 L574.54 605.6 L579.21 607.8 L583.89 609.93 L588.57 611.97 L593.25 613.93 L597.92 615.8 L602.6 617.59 L607.28 619.31 L611.96 620.94 L616.63 622.5 L621.31 623.98 L625.99 625.39 L630.66 626.74 L635.34 628.02 L640.02 629.24 L644.7 630.39 L649.37 631.5 L654.05 632.54 L658.73 633.54 L663.41 634.49 L668.08 635.39 L672.76 636.25 L677.44 637.07 L682.12 637.85 L686.79 638.59 L691.47 639.3 L696.15 639.97 L700.82 640.62 L705.5 641.23 L710.18 641.81 L714.86 642.37 L719.53 642.9 L724.21 643.41 L728.89 643.9 L733.57 644.36 L738.24 644.81 L742.92 645.23 L747.6 645.64 L752.28 646.03 L756.95 646.4 L761.63 646.76 L766.31 647.1 L770.98 647.43 L775.66 647.75 L780.34 648.05 L785.02 648.34 L789.69 648.62 L794.37 648.88 L799.05 649.14 L803.73 649.39 L808.4 649.62 L813.08 649.85 L817.76 650.07 L822.43 650.28 L827.11 650.48 L831.79 650.68 L836.47 650.87 L841.14 651.05 L845.82 651.22 L850.5 651.39 L855.18 651.55 L859.85 651.71 L864.53 651.86 L869.21 652 L873.89 652.14 L878.56 652.28 L883.24 652.41 L883.24 660.35 L46 660.35 Z" fill="#fff" stroke="none"/>
<path d="M46 656.15 L50.68 656.03 L55.35 655.89 L60.03 655.76 L64.71 655.62 L69.39 655.47 L74.06 655.32 L78.74 655.17 L83.42 655.01 L88.1 654.85 L92.77 654.69 L97.45 654.51 L102.13 654.34 L106.81 654.16 L111.48 653.97 L116.16 653.77 L120.84 653.57 L125.51 653.37 L130.19 653.15 L134.87 652.93 L139.55 652.71 L144.22 652.47 L148.9 652.22 L153.58 651.97 L158.26 651.71 L162.93 651.44 L167.61 651.16 L172.29 650.86 L176.96 650.56 L181.64 650.24 L186.32 649.92 L191 649.58 L195.67 649.22 L200.35 648.86 L205.03 648.47 L209.71 648.07 L214.38 647.66 L219.06 647.22 L223.74 646.77 L228.42 646.3 L233.09 645.81 L237.77 645.29 L242.45 644.75 L247.12 644.19 L251.8 643.6 L256.48 642.98 L261.16 642.33 L265.83 641.66 L270.51 640.94 L275.19 640.2 L279.87 639.41 L284.54 638.59 L289.22 637.73 L293.9 636.82 L298.58 635.86 L303.25 634.86 L307.93 633.8 L312.61 632.69 L317.28 631.51 L321.96 630.28 L326.64 628.98 L331.32 627.61 L335.99 626.16 L340.67 624.64 L345.35 623.05 L350.03 621.36 L354.7 619.59 L359.38 617.73 L364.06 615.78 L368.73 613.74 L373.41 611.6 L378.09 609.36 L382.77 607.03 L387.44 604.61 L392.12 602.1 L396.8 599.51 L401.48 596.84 L406.15 594.12 L410.83 591.36 L415.51 588.56 L420.19 585.77 L424.86 583 L429.54 580.29 L434.22 577.66 L438.89 575.16 L443.57 572.82 L448.25 570.69 L452.93 568.8 L457.6 567.2 L462.28 565.91 L466.96 564.97 L471.64 564.39 L476.31 564.2 L480.99 564.36 L485.67 564.84 L490.35 565.65 L495.02 566.75 L499.7 568.13 L504.38 569.77 L509.05 571.63 L513.73 573.69 L518.41 575.91 L523.09 578.26 L527.76 580.71 L532.44 583.23 L537.12 585.79 L541.8 588.38 L546.47 590.96 L551.15 593.53 L555.83 596.06 L560.51 598.54 L565.18 600.96 L569.86 603.32 L574.54 605.6 L579.21 607.8 L583.89 609.93 L588.57 611.97 L593.25 613.93 L597.92 615.8 L602.6 617.59 L607.28 619.31 L611.96 620.94 L616.63 622.5 L621.31 623.98 L625.99 625.39 L630.66 626.74 L635.34 628.02 L640.02 629.24 L644.7 630.39 L649.37 631.5 L654.05 632.54 L658.73 633.54 L663.41 634.49 L668.08 635.39 L672.76 636.25 L677.44 637.07 L682.12 637.85 L686.79 638.59 L691.47 639.3 L696.15 639.97 L700.82 640.62 L705.5 641.23 L710.18 641.81 L714.86 642.37 L719.53 642.9 L724.21 643.41 L728.89 643.9 L733.57 644.36 L738.24 644.81 L742.92 645.23 L747.6 645.64 L752.28 646.03 L756.95 646.4 L761.63 646.76 L766.31 647.1 L770.98 647.43 L775.66 647.75 L780.34 648.05 L785.02 648.34 L789.69 648.62 L794.37 648.88 L799.05 649.14 L803.73 649.39 L808.4 649.62 L813.08 649.85 L817.76 650.07 L822.43 650.28 L827.11 650.48 L831.79 650.68 L836.47 650.87 L841.14 651.05 L845.82 651.22 L850.5 651.39 L855.18 651.55 L859.85 651.71 L864.53 651.86 L869.21 652 L873.89 652.14 L878.56 652.28 L883.24 652.41" fill="none" stroke="#000000" stroke-width="2.3"/>
<path d="M46 692.39 L50.68 692.28 L55.35 692.16 L60.03 692.03 L64.71 691.91 L69.39 691.78 L74.06 691.64 L78.74 691.5 L83.42 691.36 L88.1 691.21 L92.77 691.05 L97.45 690.89 L102.13 690.73 L106.81 690.55 L111.48 690.38 L116.16 690.19 L120.84 690 L125.51 689.81 L130.19 689.6 L134.87 689.39 L139.55 689.17 L144.22 688.94 L148.9 688.7 L153.58 688.46 L158.26 688.2 L162.93 687.94 L167.61 687.66 L172.29 687.37 L176.96 687.07 L181.64 686.76 L186.32 686.44 L191 686.1 L195.67 685.75 L200.35 685.38 L205.03 685 L209.71 684.6 L214.38 684.18 L219.06 683.74 L223.74 683.29 L228.42 682.81 L233.09 682.31 L237.77 681.79 L242.45 681.24 L247.12 680.67 L251.8 680.07 L256.48 679.44 L261.16 678.78 L265.83 678.09 L270.51 677.37 L275.19 676.61 L279.87 675.81 L284.54 674.96 L289.22 674.08 L293.9 673.15 L298.58 672.18 L303.25 671.15 L307.93 670.07 L312.61 668.93 L317.28 667.74 L321.96 666.48 L326.64 665.15 L331.32 663.76 L335.99 662.29 L340.67 660.75 L345.35 659.14 L350.03 657.44 L354.7 655.65 L359.38 653.78 L364.06 651.82 L368.73 649.78 L373.41 647.64 L378.09 645.41 L382.77 643.1 L387.44 640.7 L392.12 638.23 L396.8 635.68 L401.48 633.07 L406.15 630.41 L410.83 627.72 L415.51 625 L420.19 622.29 L424.86 619.6 L429.54 616.97 L434.22 614.42 L438.89 611.99 L443.57 609.71 L448.25 607.61 L452.93 605.73 L457.6 604.1 L462.28 602.76 L466.96 601.73 L471.64 601.03 L476.31 600.67 L480.99 600.67 L485.67 601.02 L490.35 601.72 L495.02 602.75 L499.7 604.1 L504.38 605.71 L509.05 607.58 L513.73 609.65 L518.41 611.88 L523.09 614.26 L527.76 616.72 L532.44 619.26 L537.12 621.83 L541.8 624.41 L546.47 626.97 L551.15 629.51 L555.83 632 L560.51 634.43 L565.18 636.8 L569.86 639.09 L574.54 641.31 L579.21 643.44 L583.89 645.49 L588.57 647.45 L593.25 649.34 L597.92 651.14 L602.6 652.86 L607.28 654.5 L611.96 656.07 L616.63 657.57 L621.31 658.99 L625.99 660.35 L630.66 661.65 L635.34 662.89 L640.02 664.07 L644.7 665.19 L649.37 666.27 L654.05 667.29 L658.73 668.27 L663.41 669.2 L668.08 670.09 L672.76 670.95 L677.44 671.76 L682.12 672.54 L686.79 673.28 L691.47 674 L696.15 674.68 L700.82 675.34 L705.5 675.96 L710.18 676.56 L714.86 677.14 L719.53 677.7 L724.21 678.23 L728.89 678.74 L733.57 679.23 L738.24 679.7 L742.92 680.16 L747.6 680.6 L752.28 681.02 L756.95 681.42 L761.63 681.82 L766.31 682.19 L770.98 682.56 L775.66 682.91 L780.34 683.25 L785.02 683.58 L789.69 683.89 L794.37 684.2 L799.05 684.49 L803.73 684.78 L808.4 685.06 L813.08 685.33 L817.76 685.59 L822.43 685.84 L827.11 686.08 L831.79 686.32 L836.47 686.55 L841.14 686.77 L845.82 686.98 L850.5 687.19 L855.18 687.4 L859.85 687.59 L864.53 687.79 L869.21 687.97 L873.89 688.15 L878.56 688.33 L883.24 688.5 L883.24 696.5 L46 696.5 Z" fill="#fff" stroke="none"/>
<path d="M46 692.39 L50.68 692.28 L55.35 692.16 L60.03 692.03 L64.71 691.91 L69.39 691.78 L74.06 691.64 L78.74 691.5 L83.42 691.36 L88.1 691.21 L92.77 691.05 L97.45 690.89 L102.13 690.73 L106.81 690.55 L111.48 690.38 L116.16 690.19 L120.84 690 L125.51 689.81 L130.19 689.6 L134.87 689.39 L139.55 689.17 L144.22 688.94 L148.9 688.7 L153.58 688.46 L158.26 688.2 L162.93 687.94 L167.61 687.66 L172.29 687.37 L176.96 687.07 L181.64 686.76 L186.32 686.44 L191 686.1 L195.67 685.75 L200.35 685.38 L205.03 685 L209.71 684.6 L214.38 684.18 L219.06 683.74 L223.74 683.29 L228.42 682.81 L233.09 682.31 L237.77 681.79 L242.45 681.24 L247.12 680.67 L251.8 680.07 L256.48 679.44 L261.16 678.78 L265.83 678.09 L270.51 677.37 L275.19 676.61 L279.87 675.81 L284.54 674.96 L289.22 674.08 L293.9 673.15 L298.58 672.18 L303.25 671.15 L307.93 670.07 L312.61 668.93 L317.28 667.74 L321.96 666.48 L326.64 665.15 L331.32 663.76 L335.99 662.29 L340.67 660.75 L345.35 659.14 L350.03 657.44 L354.7 655.65 L359.38 653.78 L364.06 651.82 L368.73 649.78 L373.41 647.64 L378.09 645.41 L382.77 643.1 L387.44 640.7 L392.12 638.23 L396.8 635.68 L401.48 633.07 L406.15 630.41 L410.83 627.72 L415.51 625 L420.19 622.29 L424.86 619.6 L429.54 616.97 L434.22 614.42 L438.89 611.99 L443.57 609.71 L448.25 607.61 L452.93 605.73 L457.6 604.1 L462.28 602.76 L466.96 601.73 L471.64 601.03 L476.31 600.67 L480.99 600.67 L485.67 601.02 L490.35 601.72 L495.02 602.75 L499.7 604.1 L504.38 605.71 L509.05 607.58 L513.73 609.65 L518.41 611.88 L523.09 614.26 L527.76 616.72 L532.44 619.26 L537.12 621.83 L541.8 624.41 L546.47 626.97 L551.15 629.51 L555.83 632 L560.51 634.43 L565.18 636.8 L569.86 639.09 L574.54 641.31 L579.21 643.44 L583.89 645.49 L588.57 647.45 L593.25 649.34 L597.92 651.14 L602.6 652.86 L607.28 654.5 L611.96 656.07 L616.63 657.57 L621.31 658.99 L625.99 660.35 L630.66 661.65 L635.34 662.89 L640.02 664.07 L644.7 665.19 L649.37 666.27 L654.05 667.29 L658.73 668.27 L663.41 669.2 L668.08 670.09 L672.76 670.95 L677.44 671.76 L682.12 672.54 L686.79 673.28 L691.47 674 L696.15 674.68 L700.82 675.34 L705.5 675.96 L710.18 676.56 L714.86 677.14 L719.53 677.7 L724.21 678.23 L728.89 678.74 L733.57 679.23 L738.24 679.7 L742.92 680.16 L747.6 680.6 L752.28 681.02 L756.95 681.42 L761.63 681.82 L766.31 682.19 L770.98 682.56 L775.66 682.91 L780.34 683.25 L785.02 683.58 L789.69 683.89 L794.37 684.2 L799.05 684.49 L803.73 684.78 L808.4 685.06 L813.08 685.33 L817.76 685.59 L822.43 685.84 L827.11 686.08 L831.79 686.32 L836.47 686.55 L841.14 686.77 L845.82 686.98 L850.5 687.19 L855.18 687.4 L859.85 687.59 L864.53 687.79 L869.21 687.97 L873.89 688.15 L878.56 688.33 L883.24 688.5" fill="none" stroke="#ff0000" stroke-width="2.3"/>
<rect x="42.7" y="19.7" width="843.3" height="680.05" fill="none" stroke="#000" stroke-width="1.9"/>
<path d="M448.3 95.2 V265" stroke="#000" stroke-width="2.5" stroke-dasharray="10.2 8" fill="none"/>
<path d="M484.3 262 V635" stroke="#000" stroke-width="2.5" stroke-dasharray="10.2 8" fill="none"/>
<g font-family='"Liberation Sans", Arial, Helvetica, sans-serif' font-size="21" fill="#000">
<text x="56.5" y="145.7">8 s</text>
<text x="56.5" y="176.2">7.5 s</text>
<text x="56.5" y="212.1">7 s</text>
<text x="56.5" y="249.7">6.5 s</text>
<text x="56.5" y="285.3">6 s</text>
<text x="56.5" y="322.9">5.5 s</text>
<text x="56.5" y="359.7">5 s</text>
<text x="56.5" y="393">4.5 s</text>
<text x="56.5" y="428.8">4 s</text>
<text x="56.5" y="465.2">3.5 s</text>
<text x="56.5" y="503.3">3 s</text>
<text x="56.5" y="534.5">2.5 s</text>
<text x="56.5" y="572">2 s</text>
<text x="56.5" y="608.1">1.5 s</text>
<text x="56.5" y="646.5">1 s</text>
<text x="56.5" y="684.1">0.5 s</text>
</g>
<g font-family='"Liberation Sans", Arial, Helvetica, sans-serif' font-size="20.9" font-weight="bold" fill="#000" stroke="#000" stroke-width="0.25">
<text x="745" y="131"><tspan font-style="italic">T</tspan><tspan font-size="13.8" dy="6.1" dx="-1">NF</tspan><tspan dy="-6.1"> = 75 °C</tspan></text>
<text x="745" y="167.4"><tspan font-style="italic">T</tspan><tspan font-size="13.8" dy="6.1" dx="-1">NF</tspan><tspan dy="-6.1"> = 83 °C</tspan></text>
<text x="745" y="205.9"><tspan font-style="italic">T</tspan><tspan font-size="13.8" dy="6.1" dx="-1">NF</tspan><tspan dy="-6.1"> = 70 °C</tspan></text>
<text x="745" y="238.3"><tspan font-style="italic">T</tspan><tspan font-size="13.8" dy="6.1" dx="-1">NF</tspan><tspan dy="-6.1"> = 85 °C</tspan></text>
<text x="745" y="273.4"><tspan font-style="italic">T</tspan><tspan font-size="13.8" dy="6.1" dx="-1">NF</tspan><tspan dy="-6.1"> = 81 °C</tspan></text>
<text x="745" y="310.5"><tspan font-style="italic">T</tspan><tspan font-size="13.8" dy="6.1" dx="-1">NF</tspan><tspan dy="-6.1"> = 81 °C</tspan></text>
<text x="745" y="346.6"><tspan font-style="italic">T</tspan><tspan font-size="13.8" dy="6.1" dx="-1">NF</tspan><tspan dy="-6.1"> = 80 °C</tspan></text>
<text x="745" y="384.1"><tspan font-style="italic">T</tspan><tspan font-size="13.8" dy="6.1" dx="-1">NF</tspan><tspan dy="-6.1"> = 70 °C</tspan></text>
<text x="745" y="418.3"><tspan font-style="italic">T</tspan><tspan font-size="13.8" dy="6.1" dx="-1">NF</tspan><tspan dy="-6.1"> = 82 °C</tspan></text>
<text x="745" y="457.2"><tspan font-style="italic">T</tspan><tspan font-size="13.8" dy="6.1" dx="-1">NF</tspan><tspan dy="-6.1"> = 82 °C</tspan></text>
<text x="745" y="489.8"><tspan font-style="italic">T</tspan><tspan font-size="13.8" dy="6.1" dx="-1">NF</tspan><tspan dy="-6.1"> = 73 °C</tspan></text>
<text x="745" y="527.9"><tspan font-style="italic">T</tspan><tspan font-size="13.8" dy="6.1" dx="-1">NF</tspan><tspan dy="-6.1"> = 74 °C</tspan></text>
<text x="745" y="561.9"><tspan font-style="italic">T</tspan><tspan font-size="13.8" dy="6.1" dx="-1">NF</tspan><tspan dy="-6.1"> = 79 °C</tspan></text>
<text x="745" y="596.5"><tspan font-style="italic">T</tspan><tspan font-size="13.8" dy="6.1" dx="-1">NF</tspan><tspan dy="-6.1"> = 80 °C</tspan></text>
<text x="745" y="634.1"><tspan font-style="italic">T</tspan><tspan font-size="13.8" dy="6.1" dx="-1">NF</tspan><tspan dy="-6.1"> = 80 °C</tspan></text>
<text x="745" y="671.2"><tspan font-style="italic">T</tspan><tspan font-size="13.8" dy="6.1" dx="-1">NF</tspan><tspan dy="-6.1"> = 75 °C</tspan></text>
</g>
<g font-family='"Liberation Sans", Arial, Helvetica, sans-serif' font-size="29.15" fill="#000" text-anchor="middle">
<text x="116.37" y="734.3">460</text>
<text x="255.91" y="734.3">480</text>
<text x="395.45" y="734.3">500</text>
<text x="534.99" y="734.3">520</text>
<text x="674.53" y="734.3">540</text>
<text x="814.07" y="734.3">560</text>
</g>
<text x="465.4" y="782.5" font-family='"Liberation Sans", Arial, Helvetica, sans-serif' font-size="29.15" font-weight="bold" text-anchor="middle" stroke="#000" stroke-width="0.3">Wavelength (nm)</text>
<text transform="translate(25.1 360) rotate(-90)" font-family='"Liberation Sans", Arial, Helvetica, sans-serif' font-size="29.15" font-weight="bold" text-anchor="middle" stroke="#000" stroke-width="0.3">Intensity (arb. units)</text>
<text transform="translate(-1 30.5) scale(0.92 1)" font-family='"Liberation Sans", Arial, Helvetica, sans-serif' font-size="42" font-weight="bold">a</text>
</g>
<g id="panel-b">
<path d="M999.6 502.41 L1002.44 502.29 L1005.27 502.18 L1008.11 502.05 L1010.95 501.93 L1013.78 501.8 L1016.62 501.67 L1019.46 501.54 L1022.29 501.41 L1025.13 501.27 L1027.97 501.13 L1030.8 500.98 L1033.64 500.83 L1036.48 500.68 L1039.31 500.52 L1042.15 500.36 L1044.99 500.2 L1047.82 500.03 L1050.66 499.86 L1053.5 499.68 L1056.33 499.5 L1059.17 499.32 L1062.01 499.13 L1064.84 498.93 L1067.68 498.73 L1070.52 498.52 L1073.35 498.31 L1076.19 498.1 L1079.03 497.87 L1081.86 497.65 L1084.7 497.41 L1087.54 497.17 L1090.37 496.92 L1093.21 496.67 L1096.05 496.4 L1098.88 496.13 L1101.72 495.86 L1104.56 495.57 L1107.39 495.28 L1110.23 494.97 L1113.07 494.66 L1115.9 494.34 L1118.74 494.01 L1121.58 493.67 L1124.41 493.32 L1127.25 492.96 L1130.09 492.58 L1132.92 492.2 L1135.76 491.8 L1138.6 491.39 L1141.43 490.96 L1144.27 490.52 L1147.11 490.07 L1149.94 489.6 L1152.78 489.12 L1155.62 488.62 L1158.45 488.1 L1161.29 487.57 L1164.13 487.01 L1166.96 486.44 L1169.8 485.84 L1172.64 485.23 L1175.47 484.59 L1178.31 483.93 L1181.15 483.24 L1183.98 482.53 L1186.82 481.79 L1189.66 481.02 L1192.49 480.22 L1195.33 479.39 L1198.17 478.53 L1201 477.63 L1203.84 476.7 L1206.68 475.73 L1209.51 474.72 L1212.35 473.67 L1215.19 472.57 L1218.02 471.43 L1220.86 470.24 L1223.7 468.99 L1226.53 467.69 L1229.37 466.34 L1232.21 464.92 L1235.04 463.44 L1237.88 461.89 L1240.72 460.27 L1243.55 458.57 L1246.39 456.8 L1249.23 454.94 L1252.06 452.99 L1254.9 450.95 L1257.74 448.8 L1260.57 446.55 L1263.41 444.19 L1266.25 441.71 L1269.08 439.1 L1271.92 436.36 L1274.76 433.48 L1277.59 430.44 L1280.43 427.25 L1283.27 423.89 L1286.1 420.35 L1288.94 416.62 L1291.78 412.69 L1294.61 408.54 L1297.45 404.17 L1300.29 399.56 L1303.12 394.69 L1305.96 389.56 L1308.8 384.15 L1311.63 378.44 L1314.47 372.42 L1317.31 366.07 L1320.14 359.37 L1322.98 352.32 L1325.82 344.9 L1328.65 337.08 L1331.49 328.87 L1334.33 320.25 L1337.16 311.21 L1340 301.75 L1340.82 298.94 L1341.64 296.1 L1342.45 293.22 L1343.27 290.31 L1344.09 287.36 L1344.91 284.38 L1345.73 281.36 L1346.55 278.31 L1347.36 275.23 L1348.18 272.11 L1349 268.96 L1349.82 265.78 L1350.64 262.56 L1351.45 259.32 L1352.27 256.04 L1353.09 252.74 L1353.91 249.4 L1354.73 246.04 L1355.55 242.65 L1356.36 239.24 L1357.18 235.8 L1358 232.34 L1358.82 228.85 L1359.64 225.35 L1360.45 221.82 L1361.27 218.28 L1362.09 214.72 L1362.91 211.15 L1363.73 207.57 L1364.55 203.97 L1365.36 200.37 L1366.18 196.76 L1367 193.15 L1367.82 189.54 L1368.64 185.92 L1369.45 182.31 L1370.27 178.71 L1371.09 175.12 L1371.91 171.54 L1372.73 167.97 L1373.55 164.42 L1374.36 160.89 L1375.18 157.39 L1376 153.91 L1376.82 150.46 L1377.64 147.05 L1378.45 143.68 L1379.27 140.34 L1380.09 137.06 L1380.91 133.82 L1381.73 130.63 L1382.55 127.5 L1383.36 124.43 L1384.18 121.43 L1385 118.49 L1385.82 115.62 L1386.64 112.83 L1387.45 110.12 L1388.27 107.49 L1389.09 104.95 L1389.91 102.5 L1390.73 100.14 L1391.55 97.88 L1392.36 95.72 L1393.18 93.66 L1394 91.71 L1394.82 89.87 L1395.64 88.15 L1396.45 86.54 L1397.27 85.04 L1398.09 83.67 L1398.91 82.43 L1399.73 81.3 L1400.55 80.31 L1401.36 79.44 L1402.18 78.71 L1403 78.1 L1403.82 77.63 L1404.64 77.29 L1405.45 77.09 L1406.27 77.02 L1407.09 77.08 L1407.91 77.28 L1408.73 77.61 L1409.55 78.07 L1410.36 78.67 L1411.18 79.39 L1412 80.25 L1412.82 81.22 L1413.64 82.33 L1414.45 83.56 L1415.27 84.91 L1416.09 86.37 L1416.91 87.96 L1417.73 89.65 L1418.55 91.46 L1419.36 93.37 L1420.18 95.38 L1421 97.5 L1421.82 99.71 L1422.64 102.01 L1423.45 104.4 L1424.27 106.88 L1425.09 109.44 L1425.91 112.07 L1426.73 114.78 L1427.55 117.56 L1428.36 120.4 L1429.18 123.31 L1430 126.27 L1430.82 129.28 L1431.64 132.35 L1432.45 135.46 L1433.27 138.61 L1434.09 141.81 L1434.91 145.03 L1435.73 148.29 L1436.55 151.58 L1437.36 154.89 L1438.18 158.22 L1439 161.57 L1439.82 164.94 L1440.64 168.32 L1441.45 171.7 L1442.27 175.1 L1443.09 178.5 L1443.91 181.89 L1444.73 185.29 L1445.55 188.69 L1446.36 192.08 L1447.18 195.46 L1448 198.83 L1448.82 202.19 L1449.64 205.54 L1450.45 208.87 L1451.27 212.19 L1452.09 215.49 L1452.91 218.77 L1453.73 222.03 L1454.55 225.26 L1455.36 228.48 L1456.18 231.66 L1457 234.83 L1457.82 237.97 L1458.64 241.08 L1459.45 244.16 L1460.27 247.22 L1461.09 250.24 L1461.91 253.24 L1462.73 256.21 L1463.55 259.15 L1464.36 262.05 L1465.18 264.93 L1466 267.77 L1466.82 270.58 L1467.64 273.36 L1468.45 276.11 L1469.27 278.83 L1470.09 281.51 L1470.91 284.17 L1471.73 286.79 L1472.55 289.37 L1473.36 291.93 L1474.18 294.45 L1475 296.95 L1475.82 299.41 L1476.64 301.83 L1477.45 304.23 L1478.27 306.6 L1479.09 308.93 L1479.91 311.23 L1480.73 313.51 L1481.55 315.75 L1482.36 317.96 L1483.18 320.14 L1484 322.29 L1484.82 324.42 L1485.64 326.51 L1486.45 328.57 L1487.27 330.61 L1488.09 332.62 L1488.91 334.6 L1489.73 336.55 L1490.55 338.47 L1491.36 340.37 L1492.18 342.24 L1493 344.09 L1493.82 345.91 L1494.64 347.7 L1495.45 349.47 L1496.27 351.22 L1497.09 352.94 L1497.91 354.63 L1498.73 356.3 L1499.55 357.95 L1500.36 359.57 L1501.18 361.17 L1502 362.75 L1502.82 364.31 L1503.64 365.84 L1504.45 367.36 L1505.27 368.85 L1506.09 370.32 L1506.91 371.77 L1507.73 373.2 L1508.55 374.61 L1509.36 376 L1510.18 377.37 L1511 378.72 L1511.82 380.05 L1512.64 381.36 L1513.45 382.66 L1514.27 383.94 L1515.09 385.19 L1515.91 386.44 L1516.73 387.66 L1517.55 388.87 L1518.36 390.06 L1519.18 391.24 L1520 392.4 L1522.78 396.22 L1525.56 399.86 L1528.34 403.35 L1531.12 406.67 L1533.9 409.85 L1536.68 412.89 L1539.46 415.8 L1542.24 418.58 L1545.02 421.25 L1547.8 423.8 L1550.58 426.24 L1553.36 428.59 L1556.14 430.83 L1558.92 432.99 L1561.7 435.06 L1564.48 437.05 L1567.26 438.96 L1570.04 440.79 L1572.82 442.56 L1575.6 444.25 L1578.37 445.89 L1581.15 447.46 L1583.93 448.97 L1586.71 450.43 L1589.49 451.84 L1592.27 453.19 L1595.05 454.5 L1597.83 455.76 L1600.61 456.98 L1603.39 458.16 L1606.17 459.29 L1608.95 460.39 L1611.73 461.45 L1614.51 462.48 L1617.29 463.47 L1620.07 464.44 L1622.85 465.37 L1625.63 466.27 L1628.41 467.14 L1631.19 467.99 L1633.97 468.8 L1636.75 469.6 L1639.53 470.37 L1642.31 471.12 L1645.09 471.84 L1647.87 472.55 L1650.65 473.23 L1653.43 473.9 L1656.21 474.54 L1658.99 475.17 L1661.77 475.78 L1664.55 476.37 L1667.33 476.95 L1670.11 477.51 L1672.89 478.05 L1675.67 478.58 L1678.45 479.1 L1681.23 479.6 L1684.01 480.09 L1686.79 480.57 L1689.57 481.03 L1692.35 481.49 L1695.12 481.93 L1697.9 482.36 L1700.68 482.78 L1703.46 483.19 L1706.24 483.59 L1709.02 483.98 L1711.8 484.36 L1714.58 484.73 L1717.36 485.09 L1720.14 485.44 L1722.92 485.79 L1725.7 486.13 L1728.48 486.46 L1731.26 486.78 L1734.04 487.1 L1736.82 487.4 L1739.6 487.7 L1742.38 488 L1745.16 488.29 L1747.94 488.57 L1750.72 488.84 L1753.5 489.11 L1756.28 489.38 L1759.06 489.64 L1761.84 489.89 L1764.62 490.14 L1767.4 490.38 L1770.18 490.62 L1772.96 490.85 L1775.74 491.08 L1778.52 491.3 L1781.3 491.52 L1784.08 491.73 L1786.86 491.94 L1789.64 492.15 L1792.42 492.35 L1795.2 492.55 L1797.98 492.74 L1800.76 492.93 L1803.54 493.12 L1806.32 493.3 L1809.1 493.48 L1811.87 493.66 L1814.65 493.83 L1817.43 494 L1820.21 494.17 L1822.99 494.33" fill="none" stroke="#000" stroke-width="2.2" stroke-dasharray="9.5 7.5" stroke-dashoffset="10.5"/>
<path d="M999.6 689.06 L1002.44 688.98 L1005.27 688.91 L1008.11 688.84 L1010.95 688.76 L1013.78 688.69 L1016.62 688.61 L1019.46 688.52 L1022.29 688.44 L1025.13 688.36 L1027.97 688.27 L1030.8 688.18 L1033.64 688.09 L1036.48 687.99 L1039.31 687.89 L1042.15 687.8 L1044.99 687.69 L1047.82 687.59 L1050.66 687.48 L1053.5 687.37 L1056.33 687.26 L1059.17 687.14 L1062.01 687.02 L1064.84 686.9 L1067.68 686.78 L1070.52 686.65 L1073.35 686.52 L1076.19 686.38 L1079.03 686.24 L1081.86 686.1 L1084.7 685.95 L1087.54 685.8 L1090.37 685.64 L1093.21 685.48 L1096.05 685.32 L1098.88 685.15 L1101.72 684.98 L1104.56 684.8 L1107.39 684.61 L1110.23 684.42 L1113.07 684.23 L1115.9 684.03 L1118.74 683.82 L1121.58 683.6 L1124.41 683.38 L1127.25 683.16 L1130.09 682.92 L1132.92 682.68 L1135.76 682.43 L1138.6 682.18 L1141.43 681.91 L1144.27 681.64 L1147.11 681.36 L1149.94 681.06 L1152.78 680.76 L1155.62 680.45 L1158.45 680.13 L1161.29 679.8 L1164.13 679.45 L1166.96 679.1 L1169.8 678.73 L1172.64 678.35 L1175.47 677.95 L1178.31 677.55 L1181.15 677.12 L1183.98 676.68 L1186.82 676.23 L1189.66 675.76 L1192.49 675.27 L1195.33 674.76 L1198.17 674.23 L1201 673.68 L1203.84 673.12 L1206.68 672.52 L1209.51 671.91 L1212.35 671.27 L1215.19 670.6 L1218.02 669.91 L1220.86 669.19 L1223.7 668.43 L1226.53 667.65 L1229.37 666.83 L1232.21 665.98 L1235.04 665.09 L1237.88 664.15 L1240.72 663.18 L1243.55 662.16 L1246.39 661.1 L1249.23 659.99 L1252.06 658.82 L1254.9 657.6 L1257.74 656.32 L1260.57 654.97 L1263.41 653.56 L1266.25 652.08 L1269.08 650.53 L1271.92 648.89 L1274.76 647.17 L1277.59 645.35 L1280.43 643.45 L1283.27 641.43 L1286.1 639.31 L1288.94 637.07 L1291.78 634.7 L1294.61 632.2 L1297.45 629.55 L1300.29 626.75 L1303.12 623.78 L1305.96 620.64 L1308.8 617.3 L1311.63 613.76 L1314.47 610 L1317.31 606 L1320.14 601.75 L1322.98 597.22 L1325.82 592.4 L1328.65 587.26 L1331.49 581.78 L1334.33 575.93 L1337.16 569.68 L1340 563.02 L1340.82 561.01 L1341.64 558.96 L1342.45 556.88 L1343.27 554.75 L1344.09 552.59 L1344.91 550.38 L1345.73 548.13 L1346.55 545.83 L1347.36 543.49 L1348.18 541.11 L1349 538.68 L1349.82 536.2 L1350.64 533.67 L1351.45 531.1 L1352.27 528.47 L1353.09 525.79 L1353.91 523.06 L1354.73 520.28 L1355.55 517.45 L1356.36 514.56 L1357.18 511.61 L1358 508.61 L1358.82 505.55 L1359.64 502.43 L1360.45 499.25 L1361.27 496.02 L1362.09 492.72 L1362.91 489.36 L1363.73 485.93 L1364.55 482.45 L1365.36 478.89 L1366.18 475.28 L1367 471.59 L1367.82 467.84 L1368.64 464.03 L1369.45 460.14 L1370.27 456.19 L1371.09 452.16 L1371.91 448.07 L1372.73 443.91 L1373.55 439.67 L1374.36 435.37 L1375.18 431 L1376 426.55 L1376.82 422.04 L1377.64 417.45 L1378.45 412.8 L1379.27 408.07 L1380.09 403.27 L1380.91 398.41 L1381.73 393.48 L1382.55 388.48 L1383.36 383.42 L1384.18 378.3 L1385 373.11 L1385.82 367.86 L1386.64 362.55 L1387.45 357.19 L1388.27 351.77 L1389.09 346.3 L1389.91 340.78 L1390.73 335.22 L1391.55 329.62 L1392.36 323.98 L1393.18 318.31 L1394 312.61 L1394.82 306.88 L1395.64 301.13 L1396.45 295.38 L1397.27 289.61 L1398.09 283.84 L1398.91 278.08 L1399.73 272.33 L1400.55 266.59 L1401.36 260.88 L1402.18 255.21 L1403 249.57 L1403.82 243.99 L1404.64 238.46 L1405.45 233 L1406.27 227.61 L1407.09 222.31 L1407.91 217.1 L1408.73 212 L1409.55 207.01 L1410.36 202.14 L1411.18 197.4 L1412 192.81 L1412.82 188.37 L1413.64 184.09 L1414.45 179.98 L1415.27 176.06 L1416.09 172.32 L1416.91 168.78 L1417.73 165.45 L1418.55 162.33 L1419.36 159.44 L1420.18 156.78 L1421 154.36 L1421.82 152.18 L1422.64 150.25 L1423.45 148.58 L1424.27 147.17 L1425.09 146.02 L1425.91 145.14 L1426.73 144.52 L1427.55 144.18 L1428.36 144.11 L1429.18 144.32 L1430 144.81 L1430.82 145.58 L1431.64 146.62 L1432.45 147.93 L1433.27 149.51 L1434.09 151.35 L1434.91 153.45 L1435.73 155.8 L1436.55 158.39 L1437.36 161.21 L1438.18 164.27 L1439 167.53 L1439.82 171.01 L1440.64 174.69 L1441.45 178.55 L1442.27 182.59 L1443.09 186.8 L1443.91 191.17 L1444.73 195.68 L1445.55 200.33 L1446.36 205.1 L1447.18 209.99 L1448 214.98 L1448.82 220.06 L1449.64 225.23 L1450.45 230.47 L1451.27 235.78 L1452.09 241.14 L1452.91 246.54 L1453.73 251.99 L1454.55 257.46 L1455.36 262.95 L1456.18 268.46 L1457 273.98 L1457.82 279.49 L1458.64 285 L1459.45 290.5 L1460.27 295.98 L1461.09 301.43 L1461.91 306.86 L1462.73 312.26 L1463.55 317.62 L1464.36 322.95 L1465.18 328.22 L1466 333.46 L1466.82 338.64 L1467.64 343.77 L1468.45 348.84 L1469.27 353.86 L1470.09 358.82 L1470.91 363.72 L1471.73 368.56 L1472.55 373.34 L1473.36 378.05 L1474.18 382.7 L1475 387.28 L1475.82 391.8 L1476.64 396.25 L1477.45 400.64 L1478.27 404.96 L1479.09 409.21 L1479.91 413.39 L1480.73 417.51 L1481.55 421.56 L1482.36 425.55 L1483.18 429.47 L1484 433.32 L1484.82 437.11 L1485.64 440.84 L1486.45 444.5 L1487.27 448.1 L1488.09 451.64 L1488.91 455.12 L1489.73 458.54 L1490.55 461.9 L1491.36 465.2 L1492.18 468.44 L1493 471.62 L1493.82 474.75 L1494.64 477.82 L1495.45 480.84 L1496.27 483.8 L1497.09 486.71 L1497.91 489.57 L1498.73 492.38 L1499.55 495.14 L1500.36 497.85 L1501.18 500.51 L1502 503.12 L1502.82 505.69 L1503.64 508.21 L1504.45 510.68 L1505.27 513.11 L1506.09 515.5 L1506.91 517.85 L1507.73 520.15 L1508.55 522.42 L1509.36 524.64 L1510.18 526.83 L1511 528.97 L1511.82 531.08 L1512.64 533.15 L1513.45 535.19 L1514.27 537.19 L1515.09 539.16 L1515.91 541.09 L1516.73 542.99 L1517.55 544.85 L1518.36 546.69 L1519.18 548.49 L1520 550.26 L1522.78 556.06 L1525.56 561.53 L1528.34 566.7 L1531.12 571.58 L1533.9 576.21 L1536.68 580.58 L1539.46 584.73 L1542.24 588.66 L1545.02 592.39 L1547.8 595.93 L1550.58 599.29 L1553.36 602.49 L1556.14 605.53 L1558.92 608.43 L1561.7 611.19 L1564.48 613.82 L1567.26 616.33 L1570.04 618.73 L1572.82 621.02 L1575.6 623.21 L1578.37 625.31 L1581.15 627.31 L1583.93 629.23 L1586.71 631.08 L1589.49 632.84 L1592.27 634.53 L1595.05 636.16 L1597.83 637.72 L1600.61 639.22 L1603.39 640.66 L1606.17 642.05 L1608.95 643.39 L1611.73 644.67 L1614.51 645.91 L1617.29 647.1 L1620.07 648.26 L1622.85 649.37 L1625.63 650.44 L1628.41 651.47 L1631.19 652.47 L1633.97 653.44 L1636.75 654.37 L1639.53 655.28 L1642.31 656.15 L1645.09 657 L1647.87 657.82 L1650.65 658.61 L1653.43 659.38 L1656.21 660.12 L1658.99 660.85 L1661.77 661.55 L1664.55 662.23 L1667.33 662.89 L1670.11 663.53 L1672.89 664.15 L1675.67 664.76 L1678.45 665.34 L1681.23 665.92 L1684.01 666.47 L1686.79 667.01 L1689.57 667.54 L1692.35 668.05 L1695.12 668.55 L1697.9 669.03 L1700.68 669.5 L1703.46 669.96 L1706.24 670.41 L1709.02 670.85 L1711.8 671.28 L1714.58 671.69 L1717.36 672.1 L1720.14 672.49 L1722.92 672.88 L1725.7 673.26 L1728.48 673.62 L1731.26 673.98 L1734.04 674.34 L1736.82 674.68 L1739.6 675.01 L1742.38 675.34 L1745.16 675.66 L1747.94 675.97 L1750.72 676.28 L1753.5 676.58 L1756.28 676.87 L1759.06 677.16 L1761.84 677.44 L1764.62 677.72 L1767.4 677.98 L1770.18 678.25 L1772.96 678.51 L1775.74 678.76 L1778.52 679.01 L1781.3 679.25 L1784.08 679.49 L1786.86 679.72 L1789.64 679.95 L1792.42 680.17 L1795.2 680.39 L1797.98 680.61 L1800.76 680.82 L1803.54 681.03 L1806.32 681.23 L1809.1 681.43 L1811.87 681.63 L1814.65 681.82 L1817.43 682.01 L1820.21 682.19 L1822.99 682.38" fill="none" stroke="#000" stroke-width="2"/>
<path d="M999.6 18.1 v19.7 M999.6 697.9 v-19.7 M1037.03 18.1 v10.6 M1037.03 697.9 v-10.6 M1074.45 18.1 v10.6 M1074.45 697.9 v-10.6 M1111.88 18.1 v10.6 M1111.88 697.9 v-10.6 M1149.31 18.1 v10.6 M1149.31 697.9 v-10.6 M1186.74 18.1 v19.7 M1186.74 697.9 v-19.7 M1224.16 18.1 v10.6 M1224.16 697.9 v-10.6 M1261.59 18.1 v10.6 M1261.59 697.9 v-10.6 M1299.02 18.1 v10.6 M1299.02 697.9 v-10.6 M1336.44 18.1 v10.6 M1336.44 697.9 v-10.6 M1373.87 18.1 v19.7 M1373.87 697.9 v-19.7 M1411.3 18.1 v10.6 M1411.3 697.9 v-10.6 M1448.72 18.1 v10.6 M1448.72 697.9 v-10.6 M1486.15 18.1 v10.6 M1486.15 697.9 v-10.6 M1523.58 18.1 v10.6 M1523.58 697.9 v-10.6 M1561.01 18.1 v19.7 M1561.01 697.9 v-19.7 M1598.43 18.1 v10.6 M1598.43 697.9 v-10.6 M1635.86 18.1 v10.6 M1635.86 697.9 v-10.6 M1673.29 18.1 v10.6 M1673.29 697.9 v-10.6 M1710.71 18.1 v10.6 M1710.71 697.9 v-10.6 M1748.14 18.1 v19.7 M1748.14 697.9 v-19.7 M1785.57 18.1 v10.6 M1785.57 697.9 v-10.6 M1822.99 18.1 v10.6 M1822.99 697.9 v-10.6 M995.9 26.8 h10.3 M1826.3 26.8 h-10.3 M995.9 45.35 h19.3 M1826.3 45.35 h-19.3 M995.9 63.9 h10.3 M1826.3 63.9 h-10.3 M995.9 82.45 h10.3 M1826.3 82.45 h-10.3 M995.9 101 h10.3 M1826.3 101 h-10.3 M995.9 119.55 h10.3 M1826.3 119.55 h-10.3 M995.9 138.1 h19.3 M1826.3 138.1 h-19.3 M995.9 156.65 h10.3 M1826.3 156.65 h-10.3 M995.9 175.2 h10.3 M1826.3 175.2 h-10.3 M995.9 193.75 h10.3 M1826.3 193.75 h-10.3 M995.9 212.3 h10.3 M1826.3 212.3 h-10.3 M995.9 230.85 h19.3 M1826.3 230.85 h-19.3 M995.9 249.4 h10.3 M1826.3 249.4 h-10.3 M995.9 267.95 h10.3 M1826.3 267.95 h-10.3 M995.9 286.5 h10.3 M1826.3 286.5 h-10.3 M995.9 305.05 h10.3 M1826.3 305.05 h-10.3 M995.9 323.6 h19.3 M1826.3 323.6 h-19.3 M995.9 342.15 h10.3 M1826.3 342.15 h-10.3 M995.9 360.7 h10.3 M1826.3 360.7 h-10.3 M995.9 379.25 h10.3 M1826.3 379.25 h-10.3 M995.9 397.8 h10.3 M1826.3 397.8 h-10.3 M995.9 416.35 h19.3 M1826.3 416.35 h-19.3 M995.9 434.9 h10.3 M1826.3 434.9 h-10.3 M995.9 453.45 h10.3 M1826.3 453.45 h-10.3 M995.9 472 h10.3 M1826.3 472 h-10.3 M995.9 490.55 h10.3 M1826.3 490.55 h-10.3 M995.9 527.65 h10.3 M1826.3 527.65 h-10.3 M995.9 546.2 h10.3 M1826.3 546.2 h-10.3 M995.9 564.75 h10.3 M1826.3 564.75 h-10.3 M995.9 583.3 h10.3 M1826.3 583.3 h-10.3 M995.9 601.85 h19.3 M1826.3 601.85 h-19.3 M995.9 620.4 h10.3 M1826.3 620.4 h-10.3 M995.9 638.95 h10.3 M1826.3 638.95 h-10.3 M995.9 657.5 h10.3 M1826.3 657.5 h-10.3 M995.9 676.05 h10.3 M1826.3 676.05 h-10.3 M995.9 694.6 h19.3 M1826.3 694.6 h-19.3" stroke="#000" stroke-width="1.9" fill="none"/>
<path d="M995.9 509.5 h19.3 M1826.3 509.5 h-19.3" stroke="#444" stroke-width="1.3" fill="none"/>
<rect x="1393.3" y="23" width="107.6" height="671.2" fill="#00b0f0" fill-opacity="0.4"/>
<rect x="1500.9" y="23" width="113" height="671.2" fill="#ff0000" fill-opacity="0.4"/>
<path d="M1503.05 47.9 V694.2" stroke="#00b050" stroke-width="3.9" stroke-dasharray="15.66 11.8" fill="none"/>
<rect x="995.9" y="18.1" width="830.4" height="679.8" fill="none" stroke="#000" stroke-width="1.9"/>
<path d="M1029 73.7 H1490.3" stroke="#4472c4" stroke-width="2.6" fill="none"/>
<path d="M1013.6 73.7 L1030.5 65.3 V82.1 Z" fill="#4472c4"/>
<path d="M1513.6 73.7 H1805" stroke="#ff0000" stroke-width="2.5" fill="none"/>
<path d="M1819.6 73.7 L1803.2 65.2 V82.2 Z" fill="#ff0000"/>
<path d="M1341.7 122.1 L1401 84.6 M1385.5 227.5 L1425.6 149.3" stroke="#000" stroke-width="3.6" fill="none"/>
<path d="M1496.6 552.6 L1459 601.2" stroke="#000" stroke-width="1.2" fill="none"/>
<path d="M1453.2 608.7 L1456.6 596.6 L1463.6 602 Z" fill="#000"/>
<g font-family='"Liberation Sans", Arial, Helvetica, sans-serif' font-size="25">
<text x="1194.6" y="64.6" fill="#0070c0">Anti-stokes</text>
<text x="1631.3" y="64.6" fill="#ff0000">Stokes</text>
<text x="1252.8" y="138.8" font-weight="bold" stroke="#000" stroke-width="0.3">509 nm</text>
<text x="1303" y="266.3" font-weight="bold" stroke="#000" stroke-width="0.3">514 nm</text>
<text x="1080.8" y="181.2" font-weight="bold" fill="#ff0000" stroke="#ff0000" stroke-width="0.3">Average</text>
<text x="1045.1" y="215.8" font-size="25.6" font-weight="bold" fill="#ff0000" stroke="#ff0000" stroke-width="0.3"><tspan font-style="italic">T</tspan><tspan font-size="16" dy="9" dx="-3">NF</tspan><tspan dy="-9"> = 78 ± 5 °C</tspan></text>
<text x="1026.9" y="407.1" font-size="24.8">Average in <tspan font-weight="bold" font-size="24.6" stroke="#000" stroke-width="0.3">presence</tspan></text>
<text x="1025.7" y="437.8" font-size="24.9">of blinking lines</text>
<text x="1026.9" y="614.3" font-size="24.8">Average in <tspan font-weight="bold" font-size="24.6" stroke="#000" stroke-width="0.3">absence</tspan></text>
<text x="1025.7" y="644.9" font-size="24.9">of blinking lines</text>
<text x="1419.2" y="645.5" font-size="25.2" fill="#00b050">Laser</text>
</g>
<g font-family='"Liberation Sans", Arial, Helvetica, sans-serif' font-size="29.15" fill="#000" text-anchor="middle">
<text x="1000.2" y="732.8">400</text>
<text x="1187.34" y="732.8">450</text>
<text x="1374.47" y="732.8">500</text>
<text x="1561.61" y="732.8">550</text>
<text x="1748.74" y="732.8">600</text>
</g>
<text x="1411.5" y="779.5" font-family='"Liberation Sans", Arial, Helvetica, sans-serif' font-size="29.15" font-weight="bold" text-anchor="middle" stroke="#000" stroke-width="0.3">Wavelength (nm)</text>
<text transform="translate(976.2 357) rotate(-90)" font-family='"Liberation Sans", Arial, Helvetica, sans-serif' font-size="29.15" font-weight="bold" text-anchor="middle" stroke="#000" stroke-width="0.3">Intensity (arb. units)</text>
<text transform="translate(950.2 29.9) scale(1.05 1)" font-family='"Liberation Sans", Arial, Helvetica, sans-serif' font-size="39.5" font-weight="bold">b</text>
</g>
</svg>
</body>
</html>
